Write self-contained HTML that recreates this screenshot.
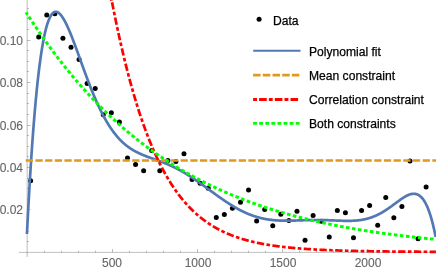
<!DOCTYPE html>
<html><head><meta charset="utf-8"><title>plot</title>
<style>
html,body{margin:0;padding:0;background:#fff;}
body{width:436px;height:271px;position:relative;overflow:hidden;font-family:"Liberation Sans",sans-serif;}
.t,.lg{will-change:transform;}
.t{-webkit-text-stroke:0.12px #666;}
.lg{-webkit-text-stroke:0.25px #000;}
.t{position:absolute;font-size:12px;line-height:14px;color:#666;white-space:nowrap;}
.yl{left:-1px;width:24px;text-align:right;}
.xl{top:256px;width:40px;text-align:center;}
.lg{position:absolute;font-size:12.1px;line-height:14px;color:#000;white-space:nowrap;}
</style></head><body>
<svg width="436" height="271" viewBox="0 0 436 271" style="position:absolute;left:0;top:0">
<g stroke="#666" fill="none">
<line x1="18.8" y1="252.4" x2="436" y2="252.4" stroke-width="0.4"/>
<line x1="27.15" y1="0" x2="27.15" y2="257" stroke-width="0.45"/>
</g>
<g stroke="#666" stroke-opacity="0.42" stroke-width="1" fill="none">
<line x1="44.50" y1="252.4" x2="44.50" y2="250.50"/>
<line x1="61.50" y1="252.4" x2="61.50" y2="250.50"/>
<line x1="78.50" y1="252.4" x2="78.50" y2="250.50"/>
<line x1="95.50" y1="252.4" x2="95.50" y2="250.50"/>
<line x1="112.50" y1="252.4" x2="112.50" y2="249.00"/>
<line x1="129.50" y1="252.4" x2="129.50" y2="250.50"/>
<line x1="146.50" y1="252.4" x2="146.50" y2="250.50"/>
<line x1="163.50" y1="252.4" x2="163.50" y2="250.50"/>
<line x1="180.50" y1="252.4" x2="180.50" y2="250.50"/>
<line x1="197.50" y1="252.4" x2="197.50" y2="249.00"/>
<line x1="214.50" y1="252.4" x2="214.50" y2="250.50"/>
<line x1="231.50" y1="252.4" x2="231.50" y2="250.50"/>
<line x1="248.50" y1="252.4" x2="248.50" y2="250.50"/>
<line x1="265.50" y1="252.4" x2="265.50" y2="250.50"/>
<line x1="282.50" y1="252.4" x2="282.50" y2="249.00"/>
<line x1="299.50" y1="252.4" x2="299.50" y2="250.50"/>
<line x1="316.50" y1="252.4" x2="316.50" y2="250.50"/>
<line x1="333.50" y1="252.4" x2="333.50" y2="250.50"/>
<line x1="350.50" y1="252.4" x2="350.50" y2="250.50"/>
<line x1="367.50" y1="252.4" x2="367.50" y2="249.00"/>
<line x1="384.50" y1="252.4" x2="384.50" y2="250.50"/>
<line x1="401.50" y1="252.4" x2="401.50" y2="250.50"/>
<line x1="418.50" y1="252.4" x2="418.50" y2="250.50"/>
<line x1="435.50" y1="252.4" x2="435.50" y2="250.50"/>
<line x1="27.0" y1="241.50" x2="28.90" y2="241.50"/>
<line x1="27.0" y1="231.50" x2="28.90" y2="231.50"/>
<line x1="27.0" y1="220.50" x2="28.90" y2="220.50"/>
<line x1="27.0" y1="209.50" x2="30.50" y2="209.50"/>
<line x1="27.0" y1="199.50" x2="28.90" y2="199.50"/>
<line x1="27.0" y1="188.50" x2="28.90" y2="188.50"/>
<line x1="27.0" y1="178.50" x2="28.90" y2="178.50"/>
<line x1="27.0" y1="167.50" x2="30.50" y2="167.50"/>
<line x1="27.0" y1="156.50" x2="28.90" y2="156.50"/>
<line x1="27.0" y1="146.50" x2="28.90" y2="146.50"/>
<line x1="27.0" y1="135.50" x2="28.90" y2="135.50"/>
<line x1="27.0" y1="125.50" x2="30.50" y2="125.50"/>
<line x1="27.0" y1="114.50" x2="28.90" y2="114.50"/>
<line x1="27.0" y1="103.50" x2="28.90" y2="103.50"/>
<line x1="27.0" y1="93.50" x2="28.90" y2="93.50"/>
<line x1="27.0" y1="82.50" x2="30.50" y2="82.50"/>
<line x1="27.0" y1="71.50" x2="28.90" y2="71.50"/>
<line x1="27.0" y1="61.50" x2="28.90" y2="61.50"/>
<line x1="27.0" y1="50.50" x2="28.90" y2="50.50"/>
<line x1="27.0" y1="40.50" x2="30.50" y2="40.50"/>
<line x1="27.0" y1="29.50" x2="28.90" y2="29.50"/>
<line x1="27.0" y1="18.50" x2="28.90" y2="18.50"/>
<line x1="27.0" y1="8.50" x2="28.90" y2="8.50"/>
</g>
<g fill="#000">
<circle cx="30.64" cy="180.70" r="2.5"/>
<circle cx="38.71" cy="36.90" r="2.5"/>
<circle cx="46.78" cy="15.10" r="2.5"/>
<circle cx="54.85" cy="13.70" r="2.5"/>
<circle cx="62.92" cy="38.30" r="2.5"/>
<circle cx="71.00" cy="47.20" r="2.5"/>
<circle cx="79.07" cy="59.40" r="2.5"/>
<circle cx="87.14" cy="83.60" r="2.5"/>
<circle cx="95.21" cy="88.60" r="2.5"/>
<circle cx="103.28" cy="114.80" r="2.5"/>
<circle cx="111.35" cy="112.70" r="2.5"/>
<circle cx="119.42" cy="122.00" r="2.5"/>
<circle cx="127.49" cy="157.90" r="2.5"/>
<circle cx="135.56" cy="164.40" r="2.5"/>
<circle cx="143.63" cy="170.70" r="2.5"/>
<circle cx="151.70" cy="150.60" r="2.5"/>
<circle cx="159.78" cy="170.70" r="2.5"/>
<circle cx="167.85" cy="160.40" r="2.5"/>
<circle cx="175.92" cy="161.60" r="2.5"/>
<circle cx="183.99" cy="153.80" r="2.5"/>
<circle cx="192.06" cy="179.50" r="2.5"/>
<circle cx="200.13" cy="183.20" r="2.5"/>
<circle cx="208.20" cy="188.30" r="2.5"/>
<circle cx="216.27" cy="217.60" r="2.5"/>
<circle cx="224.34" cy="214.50" r="2.5"/>
<circle cx="232.42" cy="208.20" r="2.5"/>
<circle cx="240.49" cy="202.30" r="2.5"/>
<circle cx="248.56" cy="190.10" r="2.5"/>
<circle cx="256.63" cy="221.00" r="2.5"/>
<circle cx="264.70" cy="209.60" r="2.5"/>
<circle cx="272.77" cy="225.70" r="2.5"/>
<circle cx="280.84" cy="214.20" r="2.5"/>
<circle cx="288.91" cy="220.50" r="2.5"/>
<circle cx="296.98" cy="211.30" r="2.5"/>
<circle cx="305.05" cy="240.30" r="2.5"/>
<circle cx="313.12" cy="215.50" r="2.5"/>
<circle cx="321.20" cy="221.20" r="2.5"/>
<circle cx="329.27" cy="237.10" r="2.5"/>
<circle cx="337.34" cy="210.40" r="2.5"/>
<circle cx="345.41" cy="212.70" r="2.5"/>
<circle cx="353.48" cy="237.80" r="2.5"/>
<circle cx="361.55" cy="210.40" r="2.5"/>
<circle cx="369.62" cy="205.40" r="2.5"/>
<circle cx="377.69" cy="225.30" r="2.5"/>
<circle cx="385.76" cy="197.50" r="2.5"/>
<circle cx="393.83" cy="217.70" r="2.5"/>
<circle cx="401.91" cy="206.40" r="2.5"/>
<circle cx="409.98" cy="161.10" r="2.5"/>
<circle cx="418.05" cy="238.70" r="2.5"/>
<circle cx="426.12" cy="187.10" r="2.5"/>
</g>
<path d="M27.00,232.69 L27.20,228.71 L27.40,224.78 L27.60,220.90 L27.80,217.07 L28.00,213.29 L28.20,209.56 L28.40,205.87 L28.60,202.24 L28.80,198.65 L29.00,195.11 L29.20,191.61 L29.40,188.16 L29.60,184.76 L29.80,181.40 L30.00,178.09 L30.20,174.82 L30.40,171.60 L30.60,168.42 L30.80,165.28 L31.00,162.19 L31.20,159.14 L31.40,156.13 L31.60,153.17 L31.80,150.25 L32.00,147.36 L32.20,144.52 L32.40,141.72 L32.60,138.96 L32.80,136.24 L33.00,133.56 L33.20,130.92 L33.40,128.31 L33.60,125.75 L33.80,123.22 L34.00,120.73 L34.20,118.28 L34.40,115.86 L34.60,113.49 L34.80,111.15 L35.00,108.84 L35.20,106.57 L35.40,104.34 L35.60,102.14 L35.80,99.97 L36.00,97.84 L36.20,95.75 L36.40,93.68 L36.60,91.65 L36.80,89.66 L37.00,87.70 L37.20,85.77 L37.40,83.87 L37.60,82.00 L37.80,80.17 L38.00,78.36 L38.20,76.59 L38.40,74.85 L38.60,73.14 L38.80,71.46 L39.00,69.81 L39.20,68.19 L39.40,66.59 L39.60,65.03 L39.80,63.50 L40.00,61.99 L40.20,60.51 L40.40,59.06 L40.60,57.64 L40.80,56.24 L41.00,54.88 L41.20,53.53 L41.40,52.22 L41.60,50.93 L41.80,49.67 L42.00,48.43 L42.20,47.22 L42.40,46.03 L42.60,44.87 L42.80,43.73 L43.00,42.62 L43.20,41.53 L43.40,40.47 L43.60,39.43 L43.80,38.41 L44.00,37.42 L44.20,36.44 L44.40,35.50 L44.60,34.57 L44.80,33.66 L45.00,32.78 L45.20,31.92 L45.40,31.08 L45.60,30.26 L45.80,29.47 L46.00,28.69 L46.20,27.94 L46.40,27.20 L46.60,26.49 L46.80,25.79 L47.00,25.12 L47.20,24.46 L47.40,23.82 L47.60,23.21 L47.80,22.61 L48.00,22.03 L48.20,21.46 L48.40,20.92 L48.60,20.39 L48.80,19.89 L49.00,19.40 L49.20,18.92 L49.40,18.47 L49.60,18.03 L49.80,17.61 L50.00,17.20 L50.20,16.81 L50.40,16.44 L50.60,16.08 L50.80,15.74 L51.00,15.41 L51.20,15.10 L51.40,14.81 L51.60,14.53 L51.80,14.26 L52.00,14.01 L52.20,13.78 L52.40,13.55 L52.60,13.35 L52.80,13.15 L53.00,12.97 L53.20,12.81 L53.40,12.65 L53.60,12.51 L53.80,12.39 L54.00,12.27 L54.20,12.17 L54.40,12.08 L54.60,12.01 L54.80,11.94 L55.00,11.89 L55.20,11.85 L55.40,11.82 L55.60,11.81 L55.80,11.80 L56.00,11.81 L56.20,11.83 L56.40,11.86 L56.60,11.90 L56.80,11.95 L57.00,12.01 L57.20,12.08 L57.40,12.16 L57.60,12.25 L57.80,12.35 L58.00,12.46 L58.20,12.59 L58.40,12.72 L58.60,12.86 L58.80,13.01 L59.00,13.16 L59.20,13.33 L59.40,13.51 L59.60,13.69 L59.80,13.89 L60.00,14.09 L60.20,14.30 L60.40,14.52 L60.60,14.74 L60.80,14.98 L61.00,15.22 L61.20,15.47 L61.40,15.73 L61.60,15.99 L61.80,16.27 L62.00,16.55 L62.20,16.83 L62.40,17.13 L62.60,17.43 L62.80,17.73 L63.00,18.05 L63.20,18.37 L63.40,18.69 L63.60,19.03 L63.80,19.37 L64.00,19.71 L64.20,20.06 L64.40,20.42 L64.60,20.78 L64.80,21.15 L65.00,21.53 L65.20,21.90 L65.40,22.29 L65.60,22.68 L65.80,23.07 L66.00,23.47 L66.20,23.88 L66.40,24.29 L66.60,24.70 L66.80,25.12 L67.00,25.55 L67.20,25.97 L67.40,26.41 L67.60,26.84 L67.80,27.28 L68.00,27.73 L68.20,28.18 L68.40,28.63 L68.60,29.09 L68.80,29.55 L69.00,30.01 L69.20,30.48 L69.40,30.95 L69.60,31.42 L69.80,31.90 L70.00,32.38 L70.20,32.87 L70.40,33.35 L70.60,33.84 L70.80,34.34 L71.00,34.83 L71.20,35.33 L71.40,35.83 L71.60,36.34 L71.80,36.84 L72.00,37.35 L72.20,37.86 L72.40,38.37 L72.60,38.89 L72.80,39.41 L73.00,39.93 L73.20,40.45 L73.40,40.97 L73.60,41.50 L73.80,42.03 L74.00,42.55 L74.20,43.09 L74.40,43.62 L74.60,44.15 L74.80,44.69 L75.00,45.22 L75.20,45.76 L75.40,46.30 L75.60,46.84 L75.80,47.38 L76.00,47.93 L76.20,48.47 L76.40,49.02 L76.60,49.56 L76.80,50.11 L77.00,50.66 L77.20,51.21 L77.40,51.75 L77.60,52.30 L77.80,52.85 L78.00,53.41 L78.20,53.96 L78.40,54.51 L78.60,55.06 L78.80,55.61 L79.00,56.17 L79.20,56.72 L79.40,57.27 L79.60,57.83 L79.80,58.38 L80.00,58.94 L80.20,59.49 L80.40,60.04 L80.60,60.60 L80.80,61.15 L81.00,61.71 L81.20,62.26 L81.40,62.81 L81.60,63.36 L81.80,63.92 L82.00,64.47 L82.20,65.02 L82.40,65.57 L82.60,66.12 L82.80,66.67 L83.00,67.22 L83.20,67.77 L83.40,68.32 L83.60,68.87 L83.80,69.42 L84.00,69.96 L84.20,70.51 L84.40,71.05 L84.60,71.60 L84.80,72.14 L85.00,72.68 L85.20,73.23 L85.40,73.77 L85.60,74.31 L85.80,74.84 L86.00,75.38 L86.20,75.92 L86.40,76.45 L86.60,76.99 L86.80,77.52 L87.00,78.05 L87.20,78.58 L87.40,79.11 L87.60,79.64 L87.80,80.17 L88.00,80.69 L88.20,81.22 L88.40,81.74 L88.60,82.26 L88.80,82.78 L89.00,83.30 L89.20,83.82 L89.40,84.33 L89.60,84.85 L89.80,85.36 L90.00,85.87 L90.20,86.38 L90.40,86.89 L90.60,87.39 L90.80,87.90 L91.00,88.40 L91.20,88.90 L91.40,89.40 L91.60,89.90 L91.80,90.39 L92.00,90.89 L92.20,91.38 L92.40,91.87 L92.60,92.36 L92.80,92.85 L93.00,93.33 L93.20,93.81 L93.40,94.30 L93.60,94.78 L93.80,95.25 L94.00,95.73 L94.20,96.20 L94.40,96.68 L94.60,97.15 L94.80,97.61 L95.00,98.08 L95.20,98.54 L95.40,99.01 L95.60,99.47 L95.80,99.93 L96.00,100.38 L96.20,100.84 L96.40,101.29 L96.60,101.74 L96.80,102.19 L97.00,102.63 L97.20,103.08 L97.40,103.52 L97.60,103.96 L97.80,104.40 L98.00,104.83 L98.20,105.26 L98.40,105.70 L98.60,106.12 L98.80,106.55 L99.00,106.98 L99.20,107.40 L99.40,107.82 L99.60,108.24 L99.80,108.66 L100.00,109.07 L100.20,109.48 L100.40,109.89 L100.60,110.30 L100.80,110.70 L101.00,111.11 L101.20,111.51 L101.40,111.91 L101.60,112.30 L101.80,112.70 L102.00,113.09 L102.20,113.48 L102.40,113.87 L102.60,114.26 L102.80,114.64 L103.00,115.02 L103.20,115.40 L103.40,115.78 L103.60,116.15 L103.80,116.52 L104.00,116.89 L104.20,117.26 L104.40,117.63 L104.60,117.99 L104.80,118.35 L105.00,118.71 L105.20,119.07 L105.40,119.42 L105.60,119.78 L105.80,120.13 L106.00,120.48 L106.20,120.82 L106.40,121.17 L106.60,121.51 L106.80,121.85 L107.00,122.18 L107.20,122.52 L107.40,122.85 L107.60,123.18 L107.80,123.51 L108.00,123.84 L108.20,124.16 L108.40,124.49 L108.60,124.81 L108.80,125.12 L109.00,125.44 L109.20,125.75 L109.40,126.06 L109.60,126.37 L109.80,126.68 L110.00,126.99 L110.20,127.29 L110.40,127.59 L110.60,127.89 L110.80,128.19 L111.00,128.48 L111.20,128.77 L111.40,129.06 L111.60,129.35 L111.80,129.64 L112.00,129.92 L112.20,130.20 L112.40,130.48 L112.60,130.76 L112.80,131.04 L113.00,131.31 L113.20,131.58 L113.40,131.85 L113.60,132.12 L113.80,132.39 L114.00,132.65 L114.20,132.91 L114.40,133.17 L114.60,133.43 L114.80,133.69 L115.00,133.94 L115.20,134.19 L115.40,134.44 L115.60,134.69 L115.80,134.94 L116.00,135.18 L116.20,135.42 L116.40,135.67 L116.60,135.90 L116.80,136.14 L117.00,136.38 L117.20,136.61 L117.40,136.84 L117.60,137.07 L117.80,137.30 L118.00,137.52 L118.20,137.75 L118.40,137.97 L118.60,138.19 L118.80,138.41 L119.00,138.63 L119.20,138.84 L119.40,139.05 L119.60,139.27 L119.80,139.48 L120.00,139.68 L120.20,139.89 L120.40,140.09 L120.60,140.30 L120.80,140.50 L121.00,140.70 L121.20,140.90 L121.40,141.09 L121.60,141.29 L121.80,141.48 L122.00,141.67 L122.20,141.86 L122.40,142.05 L122.60,142.24 L122.80,142.42 L123.00,142.61 L123.20,142.79 L123.40,142.97 L123.60,143.15 L123.80,143.32 L124.00,143.50 L124.20,143.67 L124.40,143.85 L124.60,144.02 L124.80,144.19 L125.00,144.36 L125.20,144.52 L125.40,144.69 L125.60,144.85 L125.80,145.02 L126.00,145.18 L126.20,145.34 L126.40,145.50 L126.60,145.65 L126.80,145.81 L127.00,145.96 L127.20,146.12 L127.40,146.27 L127.60,146.42 L127.80,146.57 L128.00,146.72 L128.20,146.86 L128.40,147.01 L128.60,147.15 L128.80,147.30 L129.00,147.44 L129.20,147.58 L129.40,147.72 L129.60,147.86 L129.80,147.99 L130.00,148.13 L130.20,148.26 L130.40,148.40 L130.60,148.53 L130.80,148.66 L131.00,148.79 L131.20,148.92 L131.40,149.05 L131.60,149.17 L131.80,149.30 L132.00,149.42 L132.20,149.55 L132.40,149.67 L132.60,149.79 L132.80,149.91 L133.00,150.03 L133.20,150.15 L133.40,150.27 L133.60,150.38 L133.80,150.50 L134.00,150.61 L134.20,150.73 L134.40,150.84 L134.60,150.95 L134.80,151.06 L135.00,151.17 L135.20,151.28 L135.40,151.39 L135.60,151.50 L135.80,151.60 L136.00,151.71 L136.20,151.82 L136.40,151.92 L136.60,152.02 L136.80,152.13 L137.00,152.23 L137.20,152.33 L137.40,152.43 L137.60,152.53 L137.80,152.63 L138.00,152.72 L138.20,152.82 L138.40,152.92 L138.60,153.01 L138.80,153.11 L139.00,153.20 L139.20,153.30 L139.40,153.39 L139.60,153.48 L139.80,153.58 L140.00,153.67 L140.20,153.76 L140.40,153.85 L140.60,153.94 L140.80,154.03 L141.00,154.12 L141.20,154.20 L141.40,154.29 L141.60,154.38 L141.80,154.46 L142.00,154.55 L142.20,154.63 L142.40,154.72 L142.60,154.80 L142.80,154.89 L143.00,154.97 L143.20,155.05 L143.40,155.14 L143.60,155.22 L143.80,155.30 L144.00,155.38 L144.20,155.46 L144.40,155.54 L144.60,155.62 L144.80,155.70 L145.00,155.78 L145.20,155.86 L145.40,155.94 L145.60,156.02 L145.80,156.09 L146.00,156.17 L146.20,156.25 L146.40,156.32 L146.60,156.40 L146.80,156.48 L147.00,156.55 L147.20,156.63 L147.40,156.70 L147.60,156.78 L147.80,156.85 L148.00,156.93 L148.20,157.00 L148.40,157.08 L148.60,157.15 L148.80,157.23 L149.00,157.30 L149.20,157.37 L149.40,157.45 L149.60,157.52 L149.80,157.59 L150.00,157.67 L150.20,157.74 L150.40,157.81 L150.60,157.88 L150.80,157.96 L151.00,158.03 L151.20,158.10 L151.40,158.17 L151.60,158.24 L151.80,158.32 L152.00,158.39 L152.20,158.46 L152.40,158.53 L152.60,158.60 L152.80,158.67 L153.00,158.75 L153.20,158.82 L153.40,158.89 L153.60,158.96 L153.80,159.03 L154.00,159.10 L154.20,159.18 L154.40,159.25 L154.60,159.32 L154.80,159.39 L155.00,159.46 L155.20,159.53 L155.40,159.60 L155.60,159.68 L155.80,159.75 L156.00,159.82 L156.20,159.89 L156.40,159.96 L156.60,160.04 L156.80,160.11 L157.00,160.18 L157.20,160.25 L157.40,160.33 L157.60,160.40 L157.80,160.47 L158.00,160.54 L158.20,160.62 L158.40,160.69 L158.60,160.76 L158.80,160.84 L159.00,160.91 L159.20,160.98 L159.40,161.06 L159.60,161.13 L159.80,161.21 L160.00,161.28 L160.20,161.36 L160.40,161.43 L160.60,161.51 L160.80,161.58 L161.00,161.66 L161.20,161.73 L161.40,161.81 L161.60,161.88 L161.80,161.96 L162.00,162.04 L162.20,162.11 L162.40,162.19 L162.60,162.27 L162.80,162.35 L163.00,162.42 L163.20,162.50 L163.40,162.58 L163.60,162.66 L163.80,162.74 L164.00,162.82 L164.20,162.90 L164.40,162.98 L164.60,163.06 L164.80,163.14 L165.00,163.22 L165.20,163.30 L165.40,163.38 L165.60,163.46 L165.80,163.54 L166.00,163.62 L166.20,163.71 L166.40,163.79 L166.60,163.87 L166.80,163.96 L167.00,164.04 L167.20,164.12 L167.40,164.21 L167.60,164.29 L167.80,164.38 L168.00,164.46 L168.20,164.55 L168.40,164.64 L168.60,164.72 L168.80,164.81 L169.00,164.90 L169.20,164.98 L169.40,165.07 L169.60,165.16 L169.80,165.25 L170.00,165.34 L170.20,165.43 L170.40,165.52 L170.60,165.61 L170.80,165.70 L171.00,165.79 L171.20,165.88 L171.40,165.97 L171.60,166.06 L171.80,166.16 L172.00,166.25 L172.20,166.34 L172.40,166.44 L172.60,166.53 L172.80,166.63 L173.00,166.72 L173.20,166.82 L173.40,166.91 L173.60,167.01 L173.80,167.10 L174.00,167.20 L174.20,167.30 L174.40,167.40 L174.60,167.49 L174.80,167.59 L175.00,167.69 L175.20,167.79 L175.40,167.89 L175.60,167.99 L175.80,168.09 L176.00,168.19 L176.20,168.29 L176.40,168.39 L176.60,168.50 L176.80,168.60 L177.00,168.70 L177.20,168.81 L177.40,168.91 L177.60,169.01 L177.80,169.12 L178.00,169.22 L178.20,169.33 L178.40,169.43 L178.60,169.54 L178.80,169.65 L179.00,169.76 L179.20,169.86 L179.40,169.97 L179.60,170.08 L179.80,170.19 L180.00,170.30 L180.20,170.41 L180.40,170.52 L180.60,170.63 L180.80,170.74 L181.00,170.85 L181.20,170.96 L181.40,171.07 L181.60,171.19 L181.80,171.30 L182.00,171.41 L182.20,171.53 L182.40,171.64 L182.60,171.75 L182.80,171.87 L183.00,171.98 L183.20,172.10 L183.40,172.22 L183.60,172.33 L183.80,172.45 L184.00,172.57 L184.20,172.69 L184.40,172.80 L184.60,172.92 L184.80,173.04 L185.00,173.16 L185.20,173.28 L185.40,173.40 L185.60,173.52 L185.80,173.64 L186.00,173.76 L186.20,173.88 L186.40,174.01 L186.60,174.13 L186.80,174.25 L187.00,174.37 L187.20,174.50 L187.40,174.62 L187.60,174.75 L187.80,174.87 L188.00,175.00 L188.20,175.12 L188.40,175.25 L188.60,175.37 L188.80,175.50 L189.00,175.63 L189.20,175.75 L189.40,175.88 L189.60,176.01 L189.80,176.14 L190.00,176.26 L190.20,176.39 L190.40,176.52 L190.60,176.65 L190.80,176.78 L191.00,176.91 L191.20,177.04 L191.40,177.17 L191.60,177.30 L191.80,177.44 L192.00,177.57 L192.20,177.70 L192.40,177.83 L192.60,177.97 L192.80,178.10 L193.00,178.23 L193.20,178.37 L193.40,178.50 L193.60,178.63 L193.80,178.77 L194.00,178.90 L194.20,179.04 L194.40,179.17 L194.60,179.31 L194.80,179.44 L195.00,179.58 L195.20,179.72 L195.40,179.85 L195.60,179.99 L195.80,180.13 L196.00,180.27 L196.20,180.40 L196.40,180.54 L196.60,180.68 L196.80,180.82 L197.00,180.96 L197.20,181.10 L197.40,181.24 L197.60,181.38 L197.80,181.51 L198.00,181.65 L198.20,181.79 L198.40,181.94 L198.60,182.08 L198.80,182.22 L199.00,182.36 L199.20,182.50 L199.40,182.64 L199.60,182.78 L199.80,182.92 L200.00,183.07 L200.20,183.21 L200.40,183.35 L200.60,183.49 L200.80,183.64 L201.00,183.78 L201.20,183.92 L201.40,184.06 L201.60,184.21 L201.80,184.35 L202.00,184.49 L202.20,184.64 L202.40,184.78 L202.60,184.93 L202.80,185.07 L203.00,185.22 L203.20,185.36 L203.40,185.50 L203.60,185.65 L203.80,185.79 L204.00,185.94 L204.20,186.08 L204.40,186.23 L204.60,186.37 L204.80,186.52 L205.00,186.67 L205.20,186.81 L205.40,186.96 L205.60,187.10 L205.80,187.25 L206.00,187.39 L206.20,187.54 L206.40,187.69 L206.60,187.83 L206.80,187.98 L207.00,188.13 L207.20,188.27 L207.40,188.42 L207.60,188.56 L207.80,188.71 L208.00,188.86 L208.20,189.00 L208.40,189.15 L208.60,189.30 L208.80,189.44 L209.00,189.59 L209.20,189.74 L209.40,189.88 L209.60,190.03 L209.80,190.18 L210.00,190.32 L210.20,190.47 L210.40,190.62 L210.60,190.76 L210.80,190.91 L211.00,191.06 L211.20,191.20 L211.40,191.35 L211.60,191.49 L211.80,191.64 L212.00,191.79 L212.20,191.93 L212.40,192.08 L212.60,192.23 L212.80,192.37 L213.00,192.52 L213.20,192.66 L213.40,192.81 L213.60,192.96 L213.80,193.10 L214.00,193.25 L214.20,193.39 L214.40,193.54 L214.60,193.68 L214.80,193.83 L215.00,193.97 L215.20,194.12 L215.40,194.26 L215.60,194.41 L215.80,194.55 L216.00,194.70 L216.20,194.84 L216.40,194.99 L216.60,195.13 L216.80,195.27 L217.00,195.42 L217.20,195.56 L217.40,195.71 L217.60,195.85 L217.80,195.99 L218.00,196.14 L218.20,196.28 L218.40,196.42 L218.60,196.56 L218.80,196.71 L219.00,196.85 L219.20,196.99 L219.40,197.13 L219.60,197.27 L219.80,197.41 L220.00,197.56 L220.20,197.70 L220.40,197.84 L220.60,197.98 L220.80,198.12 L221.00,198.26 L221.20,198.40 L221.40,198.54 L221.60,198.68 L221.80,198.82 L222.00,198.96 L222.20,199.09 L222.40,199.23 L222.60,199.37 L222.80,199.51 L223.00,199.65 L223.20,199.78 L223.40,199.92 L223.60,200.06 L223.80,200.19 L224.00,200.33 L224.20,200.47 L224.40,200.60 L224.60,200.74 L224.80,200.87 L225.00,201.01 L225.20,201.14 L225.40,201.28 L225.60,201.41 L225.80,201.54 L226.00,201.68 L226.20,201.81 L226.40,201.94 L226.60,202.08 L226.80,202.21 L227.00,202.34 L227.20,202.47 L227.40,202.60 L227.60,202.73 L227.80,202.86 L228.00,202.99 L228.20,203.12 L228.40,203.25 L228.60,203.38 L228.80,203.51 L229.00,203.64 L229.20,203.77 L229.40,203.89 L229.60,204.02 L229.80,204.15 L230.00,204.27 L230.20,204.40 L230.40,204.53 L230.60,204.65 L230.80,204.78 L231.00,204.90 L231.20,205.02 L231.40,205.15 L231.60,205.27 L231.80,205.39 L232.00,205.52 L232.20,205.64 L232.40,205.76 L232.60,205.88 L232.80,206.00 L233.00,206.12 L233.20,206.24 L233.40,206.36 L233.60,206.48 L233.80,206.60 L234.00,206.72 L234.20,206.84 L234.40,206.95 L234.60,207.07 L234.80,207.19 L235.00,207.30 L235.20,207.42 L235.40,207.53 L235.60,207.65 L235.80,207.76 L236.00,207.88 L236.20,207.99 L236.40,208.10 L236.60,208.22 L236.80,208.33 L237.00,208.44 L237.20,208.55 L237.40,208.66 L237.60,208.77 L237.80,208.88 L238.00,208.99 L238.20,209.10 L238.40,209.21 L238.60,209.32 L238.80,209.42 L239.00,209.53 L239.20,209.64 L239.40,209.74 L239.60,209.85 L239.80,209.95 L240.00,210.06 L240.20,210.16 L240.40,210.26 L240.60,210.37 L240.80,210.47 L241.00,210.57 L241.20,210.67 L241.40,210.77 L241.60,210.87 L241.80,210.97 L242.00,211.07 L242.20,211.17 L242.40,211.27 L242.60,211.37 L242.80,211.46 L243.00,211.56 L243.20,211.66 L243.40,211.75 L243.60,211.85 L243.80,211.94 L244.00,212.04 L244.20,212.13 L244.40,212.22 L244.60,212.32 L244.80,212.41 L245.00,212.50 L245.20,212.59 L245.40,212.68 L245.60,212.77 L245.80,212.86 L246.00,212.95 L246.20,213.04 L246.40,213.13 L246.60,213.21 L246.80,213.30 L247.00,213.39 L247.20,213.47 L247.40,213.56 L247.60,213.64 L247.80,213.73 L248.00,213.81 L248.20,213.89 L248.40,213.97 L248.60,214.06 L248.80,214.14 L249.00,214.22 L249.20,214.30 L249.40,214.38 L249.60,214.46 L249.80,214.54 L250.00,214.61 L250.20,214.69 L250.40,214.77 L250.60,214.84 L250.80,214.92 L251.00,215.00 L251.20,215.07 L251.40,215.14 L251.60,215.22 L251.80,215.29 L252.00,215.36 L252.20,215.44 L252.40,215.51 L252.60,215.58 L252.80,215.65 L253.00,215.72 L253.20,215.79 L253.40,215.86 L253.60,215.93 L253.80,215.99 L254.00,216.06 L254.20,216.13 L254.40,216.19 L254.60,216.26 L254.80,216.32 L255.00,216.39 L255.20,216.45 L255.40,216.51 L255.60,216.58 L255.80,216.64 L256.00,216.70 L256.20,216.76 L256.40,216.82 L256.60,216.88 L256.80,216.94 L257.00,217.00 L257.20,217.06 L257.40,217.12 L257.60,217.18 L257.80,217.23 L258.00,217.29 L258.20,217.34 L258.40,217.40 L258.60,217.46 L258.80,217.51 L259.00,217.56 L259.20,217.62 L259.40,217.67 L259.60,217.72 L259.80,217.77 L260.00,217.82 L260.20,217.87 L260.40,217.92 L260.60,217.97 L260.80,218.02 L261.00,218.07 L261.20,218.12 L261.40,218.17 L261.60,218.21 L261.80,218.26 L262.00,218.31 L262.20,218.35 L262.40,218.40 L262.60,218.44 L262.80,218.48 L263.00,218.53 L263.20,218.57 L263.40,218.61 L263.60,218.65 L263.80,218.70 L264.00,218.74 L264.20,218.78 L264.40,218.82 L264.60,218.86 L264.80,218.90 L265.00,218.93 L265.20,218.97 L265.40,219.01 L265.60,219.05 L265.80,219.08 L266.00,219.12 L266.20,219.15 L266.40,219.19 L266.60,219.22 L266.80,219.26 L267.00,219.29 L267.20,219.32 L267.40,219.36 L267.60,219.39 L267.80,219.42 L268.00,219.45 L268.20,219.48 L268.40,219.51 L268.60,219.54 L268.80,219.57 L269.00,219.60 L269.20,219.63 L269.40,219.66 L269.60,219.69 L269.80,219.71 L270.00,219.74 L270.20,219.77 L270.40,219.79 L270.60,219.82 L270.80,219.84 L271.00,219.87 L271.20,219.89 L271.40,219.92 L271.60,219.94 L271.80,219.96 L272.00,219.99 L272.20,220.01 L272.40,220.03 L272.60,220.05 L272.80,220.07 L273.00,220.09 L273.20,220.11 L273.40,220.13 L273.60,220.15 L273.80,220.17 L274.00,220.19 L274.20,220.21 L274.40,220.22 L274.60,220.24 L274.80,220.26 L275.00,220.28 L275.20,220.29 L275.40,220.31 L275.60,220.32 L275.80,220.34 L276.00,220.35 L276.20,220.37 L276.40,220.38 L276.60,220.40 L276.80,220.41 L277.00,220.42 L277.20,220.44 L277.40,220.45 L277.60,220.46 L277.80,220.47 L278.00,220.48 L278.20,220.49 L278.40,220.50 L278.60,220.51 L278.80,220.53 L279.00,220.53 L279.20,220.54 L279.40,220.55 L279.60,220.56 L279.80,220.57 L280.00,220.58 L280.20,220.59 L280.40,220.59 L280.60,220.60 L280.80,220.61 L281.00,220.62 L281.20,220.62 L281.40,220.63 L281.60,220.63 L281.80,220.64 L282.00,220.64 L282.20,220.65 L282.40,220.65 L282.60,220.66 L282.80,220.66 L283.00,220.67 L283.20,220.67 L283.40,220.67 L283.60,220.68 L283.80,220.68 L284.00,220.68 L284.20,220.69 L284.40,220.69 L284.60,220.69 L284.80,220.69 L285.00,220.69 L285.20,220.69 L285.40,220.70 L285.60,220.70 L285.80,220.70 L286.00,220.70 L286.20,220.70 L286.40,220.70 L286.60,220.70 L286.80,220.70 L287.00,220.70 L287.20,220.70 L287.40,220.70 L287.60,220.69 L287.80,220.69 L288.00,220.69 L288.20,220.69 L288.40,220.69 L288.60,220.69 L288.80,220.68 L289.00,220.68 L289.20,220.68 L289.40,220.68 L289.60,220.67 L289.80,220.67 L290.00,220.67 L290.20,220.66 L290.40,220.66 L290.60,220.66 L290.80,220.65 L291.00,220.65 L291.20,220.65 L291.40,220.64 L291.60,220.64 L291.80,220.63 L292.00,220.63 L292.20,220.62 L292.40,220.62 L292.60,220.61 L292.80,220.61 L293.00,220.60 L293.20,220.60 L293.40,220.59 L293.60,220.59 L293.80,220.58 L294.00,220.58 L294.20,220.57 L294.40,220.57 L294.60,220.56 L294.80,220.56 L295.00,220.55 L295.20,220.54 L295.40,220.54 L295.60,220.53 L295.80,220.53 L296.00,220.52 L296.20,220.51 L296.40,220.51 L296.60,220.50 L296.80,220.49 L297.00,220.49 L297.20,220.48 L297.40,220.47 L297.60,220.47 L297.80,220.46 L298.00,220.45 L298.20,220.45 L298.40,220.44 L298.60,220.43 L298.80,220.43 L299.00,220.42 L299.20,220.41 L299.40,220.41 L299.60,220.40 L299.80,220.39 L300.00,220.39 L300.20,220.38 L300.40,220.37 L300.60,220.37 L300.80,220.36 L301.00,220.35 L301.20,220.35 L301.40,220.34 L301.60,220.33 L301.80,220.33 L302.00,220.32 L302.20,220.31 L302.40,220.31 L302.60,220.30 L302.80,220.29 L303.00,220.29 L303.20,220.28 L303.40,220.27 L303.60,220.27 L303.80,220.26 L304.00,220.25 L304.20,220.25 L304.40,220.24 L304.60,220.24 L304.80,220.23 L305.00,220.22 L305.20,220.22 L305.40,220.21 L305.60,220.20 L305.80,220.20 L306.00,220.19 L306.20,220.19 L306.40,220.18 L306.60,220.18 L306.80,220.17 L307.00,220.17 L307.20,220.16 L307.40,220.15 L307.60,220.15 L307.80,220.14 L308.00,220.14 L308.20,220.13 L308.40,220.13 L308.60,220.12 L308.80,220.12 L309.00,220.12 L309.20,220.11 L309.40,220.11 L309.60,220.10 L309.80,220.10 L310.00,220.09 L310.20,220.09 L310.40,220.09 L310.60,220.08 L310.80,220.08 L311.00,220.07 L311.20,220.07 L311.40,220.07 L311.60,220.06 L311.80,220.06 L312.00,220.06 L312.20,220.06 L312.40,220.05 L312.60,220.05 L312.80,220.05 L313.00,220.04 L313.20,220.04 L313.40,220.04 L313.60,220.04 L313.80,220.04 L314.00,220.03 L314.20,220.03 L314.40,220.03 L314.60,220.03 L314.80,220.03 L315.00,220.03 L315.20,220.03 L315.40,220.02 L315.60,220.02 L315.80,220.02 L316.00,220.02 L316.20,220.02 L316.40,220.02 L316.60,220.02 L316.80,220.02 L317.00,220.02 L317.20,220.02 L317.40,220.02 L317.60,220.02 L317.80,220.02 L318.00,220.02 L318.20,220.02 L318.40,220.02 L318.60,220.03 L318.80,220.03 L319.00,220.03 L319.20,220.03 L319.40,220.03 L319.60,220.03 L319.80,220.04 L320.00,220.04 L320.20,220.04 L320.40,220.04 L320.60,220.04 L320.80,220.05 L321.00,220.05 L321.20,220.05 L321.40,220.05 L321.60,220.06 L321.80,220.06 L322.00,220.06 L322.20,220.07 L322.40,220.07 L322.60,220.07 L322.80,220.08 L323.00,220.08 L323.20,220.09 L323.40,220.09 L323.60,220.09 L323.80,220.10 L324.00,220.10 L324.20,220.11 L324.40,220.11 L324.60,220.12 L324.80,220.12 L325.00,220.13 L325.20,220.13 L325.40,220.14 L325.60,220.14 L325.80,220.15 L326.00,220.16 L326.20,220.16 L326.40,220.17 L326.60,220.17 L326.80,220.18 L327.00,220.18 L327.20,220.19 L327.40,220.20 L327.60,220.20 L327.80,220.21 L328.00,220.22 L328.20,220.22 L328.40,220.23 L328.60,220.24 L328.80,220.24 L329.00,220.25 L329.20,220.26 L329.40,220.27 L329.60,220.27 L329.80,220.28 L330.00,220.29 L330.20,220.29 L330.40,220.30 L330.60,220.31 L330.80,220.32 L331.00,220.33 L331.20,220.33 L331.40,220.34 L331.60,220.35 L331.80,220.36 L332.00,220.36 L332.20,220.37 L332.40,220.38 L332.60,220.39 L332.80,220.40 L333.00,220.40 L333.20,220.41 L333.40,220.42 L333.60,220.43 L333.80,220.44 L334.00,220.45 L334.20,220.45 L334.40,220.46 L334.60,220.47 L334.80,220.48 L335.00,220.49 L335.20,220.50 L335.40,220.50 L335.60,220.51 L335.80,220.52 L336.00,220.53 L336.20,220.54 L336.40,220.54 L336.60,220.55 L336.80,220.56 L337.00,220.57 L337.20,220.58 L337.40,220.59 L337.60,220.59 L337.80,220.60 L338.00,220.61 L338.20,220.62 L338.40,220.62 L338.60,220.63 L338.80,220.64 L339.00,220.65 L339.20,220.65 L339.40,220.66 L339.60,220.67 L339.80,220.68 L340.00,220.68 L340.20,220.69 L340.40,220.70 L340.60,220.70 L340.80,220.71 L341.00,220.72 L341.20,220.72 L341.40,220.73 L341.60,220.74 L341.80,220.74 L342.00,220.75 L342.20,220.76 L342.40,220.76 L342.60,220.77 L342.80,220.77 L343.00,220.78 L343.20,220.78 L343.40,220.79 L343.60,220.79 L343.80,220.80 L344.00,220.80 L344.20,220.81 L344.40,220.81 L344.60,220.81 L344.80,220.82 L345.00,220.82 L345.20,220.82 L345.40,220.83 L345.60,220.83 L345.80,220.83 L346.00,220.83 L346.20,220.84 L346.40,220.84 L346.60,220.84 L346.80,220.84 L347.00,220.84 L347.20,220.84 L347.40,220.84 L347.60,220.84 L347.80,220.84 L348.00,220.84 L348.20,220.84 L348.40,220.84 L348.60,220.84 L348.80,220.84 L349.00,220.84 L349.20,220.84 L349.40,220.83 L349.60,220.83 L349.80,220.83 L350.00,220.82 L350.20,220.82 L350.40,220.82 L350.60,220.81 L350.80,220.81 L351.00,220.80 L351.20,220.80 L351.40,220.79 L351.60,220.79 L351.80,220.78 L352.00,220.77 L352.20,220.76 L352.40,220.76 L352.60,220.75 L352.80,220.74 L353.00,220.73 L353.20,220.72 L353.40,220.71 L353.60,220.70 L353.80,220.69 L354.00,220.68 L354.20,220.67 L354.40,220.66 L354.60,220.64 L354.80,220.63 L355.00,220.62 L355.20,220.60 L355.40,220.59 L355.60,220.57 L355.80,220.56 L356.00,220.54 L356.20,220.53 L356.40,220.51 L356.60,220.49 L356.80,220.47 L357.00,220.46 L357.20,220.44 L357.40,220.42 L357.60,220.40 L357.80,220.38 L358.00,220.35 L358.20,220.33 L358.40,220.31 L358.60,220.29 L358.80,220.26 L359.00,220.24 L359.20,220.22 L359.40,220.19 L359.60,220.16 L359.80,220.14 L360.00,220.11 L360.20,220.08 L360.40,220.06 L360.60,220.03 L360.80,220.00 L361.00,219.97 L361.20,219.94 L361.40,219.90 L361.60,219.87 L361.80,219.84 L362.00,219.81 L362.20,219.77 L362.40,219.74 L362.60,219.70 L362.80,219.67 L363.00,219.63 L363.20,219.59 L363.40,219.55 L363.60,219.51 L363.80,219.47 L364.00,219.43 L364.20,219.39 L364.40,219.35 L364.60,219.31 L364.80,219.27 L365.00,219.22 L365.20,219.18 L365.40,219.13 L365.60,219.08 L365.80,219.04 L366.00,218.99 L366.20,218.94 L366.40,218.89 L366.60,218.84 L366.80,218.79 L367.00,218.74 L367.20,218.69 L367.40,218.63 L367.60,218.58 L367.80,218.53 L368.00,218.47 L368.20,218.41 L368.40,218.36 L368.60,218.30 L368.80,218.24 L369.00,218.18 L369.20,218.12 L369.40,218.06 L369.60,218.00 L369.80,217.94 L370.00,217.87 L370.20,217.81 L370.40,217.74 L370.60,217.68 L370.80,217.61 L371.00,217.54 L371.20,217.47 L371.40,217.40 L371.60,217.33 L371.80,217.26 L372.00,217.19 L372.20,217.12 L372.40,217.04 L372.60,216.97 L372.80,216.89 L373.00,216.82 L373.20,216.74 L373.40,216.66 L373.60,216.58 L373.80,216.50 L374.00,216.42 L374.20,216.34 L374.40,216.26 L374.60,216.17 L374.80,216.09 L375.00,216.00 L375.20,215.92 L375.40,215.83 L375.60,215.74 L375.80,215.66 L376.00,215.57 L376.20,215.48 L376.40,215.38 L376.60,215.29 L376.80,215.20 L377.00,215.11 L377.20,215.01 L377.40,214.92 L377.60,214.82 L377.80,214.72 L378.00,214.62 L378.20,214.52 L378.40,214.42 L378.60,214.32 L378.80,214.22 L379.00,214.12 L379.20,214.02 L379.40,213.91 L379.60,213.81 L379.80,213.70 L380.00,213.59 L380.20,213.49 L380.40,213.38 L380.60,213.27 L380.80,213.16 L381.00,213.05 L381.20,212.93 L381.40,212.82 L381.60,212.71 L381.80,212.59 L382.00,212.48 L382.20,212.36 L382.40,212.25 L382.60,212.13 L382.80,212.01 L383.00,211.89 L383.20,211.77 L383.40,211.65 L383.60,211.53 L383.80,211.41 L384.00,211.28 L384.20,211.16 L384.40,211.03 L384.60,210.91 L384.80,210.78 L385.00,210.66 L385.20,210.53 L385.40,210.40 L385.60,210.27 L385.80,210.14 L386.00,210.01 L386.20,209.88 L386.40,209.75 L386.60,209.62 L386.80,209.48 L387.00,209.35 L387.20,209.22 L387.40,209.08 L387.60,208.95 L387.80,208.81 L388.00,208.67 L388.20,208.54 L388.40,208.40 L388.60,208.26 L388.80,208.12 L389.00,207.98 L389.20,207.84 L389.40,207.70 L389.60,207.56 L389.80,207.42 L390.00,207.28 L390.20,207.13 L390.40,206.99 L390.60,206.85 L390.80,206.70 L391.00,206.56 L391.20,206.42 L391.40,206.27 L391.60,206.13 L391.80,205.98 L392.00,205.83 L392.20,205.69 L392.40,205.54 L392.60,205.39 L392.80,205.25 L393.00,205.10 L393.20,204.95 L393.40,204.81 L393.60,204.66 L393.80,204.51 L394.00,204.36 L394.20,204.21 L394.40,204.06 L394.60,203.92 L394.80,203.77 L395.00,203.62 L395.20,203.47 L395.40,203.32 L395.60,203.17 L395.80,203.02 L396.00,202.88 L396.20,202.73 L396.40,202.58 L396.60,202.43 L396.80,202.28 L397.00,202.13 L397.20,201.99 L397.40,201.84 L397.60,201.69 L397.80,201.54 L398.00,201.40 L398.20,201.25 L398.40,201.11 L398.60,200.96 L398.80,200.81 L399.00,200.67 L399.20,200.53 L399.40,200.38 L399.60,200.24 L399.80,200.10 L400.00,199.95 L400.20,199.81 L400.40,199.67 L400.60,199.53 L400.80,199.39 L401.00,199.25 L401.20,199.12 L401.40,198.98 L401.60,198.84 L401.80,198.71 L402.00,198.57 L402.20,198.44 L402.40,198.31 L402.60,198.17 L402.80,198.04 L403.00,197.91 L403.20,197.79 L403.40,197.66 L403.60,197.53 L403.80,197.41 L404.00,197.29 L404.20,197.16 L404.40,197.04 L404.60,196.92 L404.80,196.81 L405.00,196.69 L405.20,196.57 L405.40,196.46 L405.60,196.35 L405.80,196.24 L406.00,196.13 L406.20,196.02 L406.40,195.92 L406.60,195.82 L406.80,195.72 L407.00,195.62 L407.20,195.52 L407.40,195.42 L407.60,195.33 L407.80,195.24 L408.00,195.15 L408.20,195.06 L408.40,194.98 L408.60,194.90 L408.80,194.82 L409.00,194.74 L409.20,194.67 L409.40,194.59 L409.60,194.52 L409.80,194.46 L410.00,194.39 L410.20,194.33 L410.40,194.27 L410.60,194.22 L410.80,194.16 L411.00,194.11 L411.20,194.07 L411.40,194.02 L411.60,193.98 L411.80,193.94 L412.00,193.91 L412.20,193.88 L412.40,193.85 L412.60,193.83 L412.80,193.81 L413.00,193.79 L413.20,193.78 L413.40,193.77 L413.60,193.76 L413.80,193.76 L414.00,193.76 L414.20,193.77 L414.40,193.78 L414.60,193.79 L414.80,193.81 L415.00,193.84 L415.20,193.86 L415.40,193.89 L415.60,193.93 L415.80,193.97 L416.00,194.02 L416.20,194.07 L416.40,194.12 L416.60,194.18 L416.80,194.25 L417.00,194.32 L417.20,194.39 L417.40,194.47 L417.60,194.56 L417.80,194.65 L418.00,194.74 L418.20,194.85 L418.40,194.95 L418.60,195.07 L418.80,195.18 L419.00,195.31 L419.20,195.44 L419.40,195.58 L419.60,195.72 L419.80,195.87 L420.00,196.02 L420.20,196.19 L420.40,196.35 L420.60,196.53 L420.80,196.71 L421.00,196.90 L421.20,197.10 L421.40,197.30 L421.60,197.51 L421.80,197.72 L422.00,197.95 L422.20,198.18 L422.40,198.42 L422.60,198.66 L422.80,198.92 L423.00,199.18 L423.20,199.45 L423.40,199.73 L423.60,200.01 L423.80,200.31 L424.00,200.61 L424.20,200.92 L424.40,201.24 L424.60,201.57 L424.80,201.90 L425.00,202.25 L425.20,202.60 L425.40,202.97 L425.60,203.34 L425.80,203.72 L426.00,204.11 L426.20,204.52 L426.40,204.93 L426.60,205.35 L426.80,205.78 L427.00,206.22 L427.20,206.67 L427.40,207.13 L427.60,207.60 L427.80,208.09 L428.00,208.58 L428.20,209.08 L428.40,209.60 L428.60,210.13 L428.80,210.66 L429.00,211.21 L429.20,211.77 L429.40,212.34 L429.60,212.93 L429.80,213.52 L430.00,214.13 L430.20,214.75 L430.40,215.38 L430.60,216.03 L430.80,216.68 L431.00,217.35 L431.20,218.04 L431.40,218.73 L431.60,219.44 L431.80,220.16 L432.00,220.90 L432.20,221.65 L432.40,222.41 L432.60,223.19 L432.80,223.98 L433.00,224.79 L433.20,225.61 L433.40,226.45 L433.60,227.30 L433.80,228.16 L434.00,229.04 L434.20,229.94 L434.40,230.85 L434.60,231.77 L434.80,232.71 L435.00,233.67 L435.20,234.65 L435.40,235.64" fill="none" stroke="#5279b3" stroke-width="2.7" stroke-linejoin="round" stroke-linecap="square"/>
<path d="M25.75,160.5 H436.0" fill="none" stroke="#e0991c" stroke-width="2.7" stroke-dasharray="7.25 2.43"/>
<path d="M110.40,-6.54 L110.65,-5.22 L110.90,-3.90 L111.15,-2.59 L111.40,-1.28 L111.65,0.02 L111.90,1.32 L112.15,2.61 L112.40,3.89 L112.65,5.17 L112.90,6.44 L113.15,7.71 L113.40,8.97 L113.65,10.23 L113.90,11.48 L114.15,12.72 L114.40,13.96 L114.65,15.20 L114.90,16.42 L115.15,17.65 L115.40,18.86 L115.65,20.07 L115.90,21.28 L116.15,22.48 L116.40,23.67 L116.65,24.86 L116.90,26.05 L117.15,27.22 L117.40,28.40 L117.65,29.56 L117.90,30.73 L118.15,31.88 L118.40,33.03 L118.65,34.18 L118.90,35.32 L119.15,36.46 L119.40,37.59 L119.65,38.71 L119.90,39.83 L120.15,40.95 L120.40,42.06 L120.65,43.16 L120.90,44.26 L121.15,45.36 L121.40,46.44 L121.65,47.53 L121.90,48.61 L122.15,49.68 L122.40,50.75 L122.65,51.81 L122.90,52.87 L123.15,53.93 L123.40,54.97 L123.65,56.02 L123.90,57.06 L124.15,58.09 L124.40,59.12 L124.65,60.15 L124.90,61.16 L125.15,62.18 L125.40,63.19 L125.65,64.19 L125.90,65.19 L126.15,66.19 L126.40,67.18 L126.65,68.17 L126.90,69.15 L127.15,70.12 L127.40,71.10 L127.65,72.06 L127.90,73.03 L128.15,73.98 L128.40,74.94 L128.65,75.89 L128.90,76.83 L129.15,77.77 L129.40,78.70 L129.65,79.63 L129.90,80.56 L130.15,81.48 L130.40,82.40 L130.65,83.31 L130.90,84.22 L131.15,85.12 L131.40,86.02 L131.65,86.92 L131.90,87.81 L132.15,88.70 L132.40,89.58 L132.65,90.45 L132.90,91.33 L133.15,92.20 L133.40,93.06 L133.65,93.92 L133.90,94.78 L134.15,95.63 L134.40,96.48 L134.65,97.32 L134.90,98.16 L135.15,99.00 L135.40,99.83 L135.65,100.66 L135.90,101.48 L136.15,102.30 L136.40,103.11 L136.65,103.92 L136.90,104.73 L137.15,105.53 L137.40,106.33 L137.65,107.13 L137.90,107.92 L138.15,108.70 L138.40,109.49 L138.65,110.27 L138.90,111.04 L139.15,111.81 L139.40,112.58 L139.65,113.34 L139.90,114.10 L140.15,114.86 L140.40,115.61 L140.65,116.36 L140.90,117.10 L141.15,117.85 L141.40,118.58 L141.65,119.32 L141.90,120.05 L142.15,120.77 L142.40,121.49 L142.65,122.21 L142.90,122.93 L143.15,123.64 L143.40,124.35 L143.65,125.05 L143.90,125.75 L144.15,126.45 L144.40,127.14 L144.65,127.83 L144.90,128.52 L145.15,129.20 L145.40,129.88 L145.65,130.55 L145.90,131.23 L146.15,131.90 L146.40,132.56 L146.65,133.22 L146.90,133.88 L147.15,134.54 L147.40,135.19 L147.65,135.84 L147.90,136.48 L148.15,137.12 L148.40,137.76 L148.65,138.40 L148.90,139.03 L149.15,139.66 L149.40,140.28 L149.65,140.91 L149.90,141.52 L150.15,142.14 L150.40,142.75 L150.65,143.36 L150.90,143.97 L151.15,144.57 L151.40,145.17 L151.65,145.77 L151.90,146.36 L152.15,146.95 L152.40,147.54 L152.65,148.12 L152.90,148.70 L153.15,149.28 L153.40,149.86 L153.65,150.43 L153.90,151.00 L154.15,151.57 L154.40,152.13 L154.65,152.69 L154.90,153.25 L155.15,153.80 L155.40,154.35 L155.65,154.90 L155.90,155.45 L156.15,155.99 L156.40,156.53 L156.65,157.07 L156.90,157.60 L157.15,158.13 L157.40,158.66 L157.65,159.19 L157.90,159.71 L158.15,160.23 L158.40,160.75 L158.65,161.26 L158.90,161.77 L159.15,162.28 L159.40,162.79 L159.65,163.29 L159.90,163.79 L160.15,164.29 L160.40,164.79 L160.65,165.28 L160.90,165.77 L161.15,166.26 L161.40,166.74 L161.65,167.23 L161.90,167.71 L162.15,168.18 L162.40,168.66 L162.65,169.13 L162.90,169.60 L163.15,170.07 L163.40,170.53 L163.65,170.99 L163.90,171.45 L164.15,171.91 L164.40,172.37 L164.65,172.82 L164.90,173.27 L165.15,173.72 L165.40,174.16 L165.65,174.60 L165.90,175.04 L166.15,175.48 L166.40,175.92 L166.65,176.35 L166.90,176.78 L167.15,177.21 L167.40,177.64 L167.65,178.06 L167.90,178.48 L168.15,178.90 L168.40,179.32 L168.65,179.73 L168.90,180.14 L169.15,180.55 L169.40,180.96 L169.65,181.37 L169.90,181.77 L170.15,182.17 L170.40,182.57 L170.65,182.97 L170.90,183.36 L171.15,183.76 L171.40,184.15 L171.65,184.53 L171.90,184.92 L172.15,185.30 L172.40,185.69 L172.65,186.07 L172.90,186.44 L173.15,186.82 L173.40,187.19 L173.65,187.56 L173.90,187.93 L174.15,188.30 L174.40,188.67 L174.65,189.03 L174.90,189.39 L175.15,189.75 L175.40,190.11 L175.65,190.46 L175.90,190.82 L176.15,191.17 L176.40,191.52 L176.65,191.86 L176.90,192.21 L177.15,192.55 L177.40,192.90 L177.65,193.24 L177.90,193.57 L178.15,193.91 L178.40,194.24 L178.65,194.58 L178.90,194.91 L179.15,195.24 L179.40,195.56 L179.65,195.89 L179.90,196.21 L180.15,196.53 L180.40,196.85 L180.65,197.17 L180.90,197.49 L181.15,197.80 L181.40,198.11 L181.65,198.42 L181.90,198.73 L182.15,199.04 L182.40,199.35 L182.65,199.65 L182.90,199.95 L183.15,200.25 L183.40,200.55 L183.65,200.85 L183.90,201.14 L184.15,201.44 L184.40,201.73 L184.65,202.02 L184.90,202.31 L185.15,202.60 L185.40,202.88 L185.65,203.17 L185.90,203.45 L186.15,203.73 L186.40,204.01 L186.65,204.29 L186.90,204.56 L187.15,204.84 L187.40,205.11 L187.65,205.38 L187.90,205.65 L188.15,205.92 L188.40,206.19 L188.65,206.45 L188.90,206.72 L189.15,206.98 L189.40,207.24 L189.65,207.50 L189.90,207.76 L190.15,208.01 L190.40,208.27 L190.65,208.52 L190.90,208.77 L191.15,209.02 L191.40,209.27 L191.65,209.52 L191.90,209.77 L192.15,210.01 L192.40,210.26 L192.65,210.50 L192.90,210.74 L193.15,210.98 L193.40,211.22 L193.65,211.45 L193.90,211.69 L194.15,211.92 L194.40,212.16 L194.65,212.39 L194.90,212.62 L195.15,212.85 L195.40,213.08 L195.65,213.30 L195.90,213.53 L196.15,213.75 L196.40,213.97 L196.65,214.19 L196.90,214.41 L197.15,214.63 L197.40,214.85 L197.65,215.06 L197.90,215.28 L198.15,215.49 L198.40,215.71 L198.65,215.92 L198.90,216.13 L199.15,216.34 L199.40,216.54 L199.65,216.75 L199.90,216.95 L200.15,217.16 L200.40,217.36 L200.65,217.56 L200.90,217.76 L201.15,217.96 L201.40,218.16 L201.65,218.36 L201.90,218.55 L202.15,218.75 L202.40,218.94 L202.65,219.13 L202.90,219.33 L203.15,219.52 L203.40,219.71 L203.65,219.89 L203.90,220.08 L204.15,220.27 L204.40,220.45 L204.65,220.64 L204.90,220.82 L205.15,221.00 L205.40,221.18 L205.65,221.36 L205.90,221.54 L206.15,221.72 L206.40,221.89 L206.65,222.07 L206.90,222.24 L207.15,222.42 L207.40,222.59 L207.65,222.76 L207.90,222.93 L208.15,223.10 L208.40,223.27 L208.65,223.44 L208.90,223.60 L209.15,223.77 L209.40,223.93 L209.65,224.10 L209.90,224.26 L210.15,224.42 L210.40,224.58 L210.65,224.74 L210.90,224.90 L211.15,225.06 L211.40,225.22 L211.65,225.37 L211.90,225.53 L212.15,225.68 L212.40,225.83 L212.65,225.99 L212.90,226.14 L213.15,226.29 L213.40,226.44 L213.65,226.59 L213.90,226.74 L214.15,226.88 L214.40,227.03 L214.65,227.18 L214.90,227.32 L215.15,227.46 L215.40,227.61 L215.65,227.75 L215.90,227.89 L216.15,228.03 L216.40,228.17 L216.65,228.31 L216.90,228.45 L217.15,228.59 L217.40,228.72 L217.65,228.86 L217.90,228.99 L218.15,229.13 L218.40,229.26 L218.65,229.39 L218.90,229.53 L219.15,229.66 L219.40,229.79 L219.65,229.92 L219.90,230.04 L220.15,230.17 L220.40,230.30 L220.65,230.43 L220.90,230.55 L221.15,230.68 L221.40,230.80 L221.65,230.93 L221.90,231.05 L222.15,231.17 L222.40,231.29 L222.65,231.41 L222.90,231.53 L223.15,231.65 L223.40,231.77 L223.65,231.89 L223.90,232.01 L224.15,232.12 L224.40,232.24 L224.65,232.35 L224.90,232.47 L225.15,232.58 L225.40,232.69 L225.65,232.81 L225.90,232.92 L226.15,233.03 L226.40,233.14 L226.65,233.25 L226.90,233.36 L227.15,233.47 L227.40,233.58 L227.65,233.68 L227.90,233.79 L228.15,233.90 L228.40,234.00 L228.65,234.11 L228.90,234.21 L229.15,234.31 L229.40,234.42 L229.65,234.52 L229.90,234.62 L230.15,234.72 L230.40,234.82 L230.65,234.92 L230.90,235.02 L231.15,235.12 L231.40,235.22 L231.65,235.32 L231.90,235.41 L232.15,235.51 L232.40,235.60 L232.65,235.70 L232.90,235.79 L233.15,235.89 L233.40,235.98 L233.65,236.08 L233.90,236.17 L234.15,236.26 L234.40,236.35 L234.65,236.44 L234.90,236.53 L235.15,236.62 L235.40,236.71 L235.65,236.80 L235.90,236.89 L236.15,236.98 L236.40,237.06 L236.65,237.15 L236.90,237.24 L237.15,237.32 L237.40,237.41 L237.65,237.49 L237.90,237.58 L238.15,237.66 L238.40,237.74 L238.65,237.83 L238.90,237.91 L239.15,237.99 L239.40,238.07 L239.65,238.15 L239.90,238.23 L240.15,238.31 L240.40,238.39 L240.65,238.47 L240.90,238.55 L241.15,238.63 L241.40,238.70 L241.65,238.78 L241.90,238.86 L242.15,238.93 L242.40,239.01 L242.65,239.08 L242.90,239.16 L243.15,239.23 L243.40,239.31 L243.65,239.38 L243.90,239.45 L244.15,239.53 L244.40,239.60 L244.65,239.67 L244.90,239.74 L245.15,239.81 L245.40,239.88 L245.65,239.95 L245.90,240.02 L246.15,240.09 L246.40,240.16 L246.65,240.23 L246.90,240.30 L247.15,240.37 L247.40,240.43 L247.65,240.50 L247.90,240.57 L248.15,240.63 L248.40,240.70 L248.65,240.76 L248.90,240.83 L249.15,240.89 L249.40,240.96 L249.65,241.02 L249.90,241.08 L250.15,241.15 L250.40,241.21 L250.65,241.27 L250.90,241.33 L251.15,241.39 L251.40,241.46 L251.65,241.52 L251.90,241.58 L252.15,241.64 L252.40,241.70 L252.65,241.76 L252.90,241.81 L253.15,241.87 L253.40,241.93 L253.65,241.99 L253.90,242.05 L254.15,242.10 L254.40,242.16 L254.65,242.22 L254.90,242.27 L255.15,242.33 L255.40,242.39 L255.65,242.44 L255.90,242.50 L256.15,242.55 L256.40,242.60 L256.65,242.66 L256.90,242.71 L257.15,242.77 L257.40,242.82 L257.65,242.87 L257.90,242.92 L258.15,242.98 L258.40,243.03 L258.65,243.08 L258.90,243.13 L259.15,243.18 L259.40,243.23 L259.65,243.28 L259.90,243.33 L260.15,243.38 L260.40,243.43 L260.65,243.48 L260.90,243.53 L261.15,243.58 L261.40,243.63 L261.65,243.67 L261.90,243.72 L262.15,243.77 L262.40,243.82 L262.65,243.86 L262.90,243.91 L263.15,243.96 L263.40,244.00 L263.65,244.05 L263.90,244.09 L264.15,244.14 L264.40,244.18 L264.65,244.23 L264.90,244.27 L265.15,244.32 L265.40,244.36 L265.65,244.40 L265.90,244.45 L266.15,244.49 L266.40,244.53 L266.65,244.58 L266.90,244.62 L267.15,244.66 L267.40,244.70 L267.65,244.74 L267.90,244.79 L268.15,244.83 L268.40,244.87 L268.65,244.91 L268.90,244.95 L269.15,244.99 L269.40,245.03 L269.65,245.07 L269.90,245.11 L270.15,245.15 L270.40,245.19 L270.65,245.22 L270.90,245.26 L271.15,245.30 L271.40,245.34 L271.65,245.38 L271.90,245.41 L272.15,245.45 L272.40,245.49 L272.65,245.53 L272.90,245.56 L273.15,245.60 L273.40,245.64 L273.65,245.67 L273.90,245.71 L274.15,245.74 L274.40,245.78 L274.65,245.81 L274.90,245.85 L275.15,245.88 L275.40,245.92 L275.65,245.95 L275.90,245.99 L276.15,246.02 L276.40,246.06 L276.65,246.09 L276.90,246.12 L277.15,246.16 L277.40,246.19 L277.65,246.22 L277.90,246.25 L278.15,246.29 L278.40,246.32 L278.65,246.35 L278.90,246.38 L279.15,246.42 L279.40,246.45 L279.65,246.48 L279.90,246.51 L280.15,246.54 L280.40,246.57 L280.65,246.60 L280.90,246.63 L281.15,246.66 L281.40,246.69 L281.65,246.72 L281.90,246.75 L282.15,246.78 L282.40,246.81 L282.65,246.84 L282.90,246.87 L283.15,246.90 L283.40,246.93 L283.65,246.96 L283.90,246.98 L284.15,247.01 L284.40,247.04 L284.65,247.07 L284.90,247.10 L285.15,247.12 L285.40,247.15 L285.65,247.18 L285.90,247.21 L286.15,247.23 L286.40,247.26 L286.65,247.29 L286.90,247.31 L287.15,247.34 L287.40,247.36 L287.65,247.39 L287.90,247.42 L288.15,247.44 L288.40,247.47 L288.65,247.49 L288.90,247.52 L289.15,247.54 L289.40,247.57 L289.65,247.59 L289.90,247.62 L290.15,247.64 L290.40,247.67 L290.65,247.69 L290.90,247.72 L291.15,247.74 L291.40,247.76 L291.65,247.79 L291.90,247.81 L292.15,247.83 L292.40,247.86 L292.65,247.88 L292.90,247.90 L293.15,247.93 L293.40,247.95 L293.65,247.97 L293.90,247.99 L294.15,248.02 L294.40,248.04 L294.65,248.06 L294.90,248.08 L295.15,248.10 L295.40,248.13 L295.65,248.15 L295.90,248.17 L296.15,248.19 L296.40,248.21 L296.65,248.23 L296.90,248.25 L297.15,248.27 L297.40,248.30 L297.65,248.32 L297.90,248.34 L298.15,248.36 L298.40,248.38 L298.65,248.40 L298.90,248.42 L299.15,248.44 L299.40,248.46 L299.65,248.48 L299.90,248.50 L300.15,248.52 L300.40,248.53 L300.65,248.55 L300.90,248.57 L301.15,248.59 L301.40,248.61 L301.65,248.63 L301.90,248.65 L302.15,248.67 L302.40,248.69 L302.65,248.70 L302.90,248.72 L303.15,248.74 L303.40,248.76 L303.65,248.78 L303.90,248.79 L304.15,248.81 L304.40,248.83 L304.65,248.85 L304.90,248.86 L305.15,248.88 L305.40,248.90 L305.65,248.92 L305.90,248.93 L306.15,248.95 L306.40,248.97 L306.65,248.98 L306.90,249.00 L307.15,249.02 L307.40,249.03 L307.65,249.05 L307.90,249.07 L308.15,249.08 L308.40,249.10 L308.65,249.11 L308.90,249.13 L309.15,249.15 L309.40,249.16 L309.65,249.18 L309.90,249.19 L310.15,249.21 L310.40,249.22 L310.65,249.24 L310.90,249.25 L311.15,249.27 L311.40,249.28 L311.65,249.30 L311.90,249.31 L312.15,249.33 L312.40,249.34 L312.65,249.36 L312.90,249.37 L313.15,249.39 L313.40,249.40 L313.65,249.42 L313.90,249.43 L314.15,249.44 L314.40,249.46 L314.65,249.47 L314.90,249.49 L315.15,249.50 L315.40,249.51 L315.65,249.53 L315.90,249.54 L316.15,249.55 L316.40,249.57 L316.65,249.58 L316.90,249.59 L317.15,249.61 L317.40,249.62 L317.65,249.63 L317.90,249.65 L318.15,249.66 L318.40,249.67 L318.65,249.68 L318.90,249.70 L319.15,249.71 L319.40,249.72 L319.65,249.73 L319.90,249.75 L320.15,249.76 L320.40,249.77 L320.65,249.78 L320.90,249.80 L321.15,249.81 L321.40,249.82 L321.65,249.83 L321.90,249.84 L322.15,249.86 L322.40,249.87 L322.65,249.88 L322.90,249.89 L323.15,249.90 L323.40,249.91 L323.65,249.92 L323.90,249.94 L324.15,249.95 L324.40,249.96 L324.65,249.97 L324.90,249.98 L325.15,249.99 L325.40,250.00 L325.65,250.01 L325.90,250.02 L326.15,250.03 L326.40,250.05 L326.65,250.06 L326.90,250.07 L327.15,250.08 L327.40,250.09 L327.65,250.10 L327.90,250.11 L328.15,250.12 L328.40,250.13 L328.65,250.14 L328.90,250.15 L329.15,250.16 L329.40,250.17 L329.65,250.18 L329.90,250.19 L330.15,250.20 L330.40,250.21 L330.65,250.22 L330.90,250.23 L331.15,250.24 L331.40,250.25 L331.65,250.26 L331.90,250.27 L332.15,250.28 L332.40,250.28 L332.65,250.29 L332.90,250.30 L333.15,250.31 L333.40,250.32 L333.65,250.33 L333.90,250.34 L334.15,250.35 L334.40,250.36 L334.65,250.37 L334.90,250.38 L335.15,250.38 L335.40,250.39 L335.65,250.40 L335.90,250.41 L336.15,250.42 L336.40,250.43 L336.65,250.44 L336.90,250.44 L337.15,250.45 L337.40,250.46 L337.65,250.47 L337.90,250.48 L338.15,250.49 L338.40,250.49 L338.65,250.50 L338.90,250.51 L339.15,250.52 L339.40,250.53 L339.65,250.53 L339.90,250.54 L340.15,250.55 L340.40,250.56 L340.65,250.57 L340.90,250.57 L341.15,250.58 L341.40,250.59 L341.65,250.60 L341.90,250.60 L342.15,250.61 L342.40,250.62 L342.65,250.63 L342.90,250.63 L343.15,250.64 L343.40,250.65 L343.65,250.66 L343.90,250.66 L344.15,250.67 L344.40,250.68 L344.65,250.68 L344.90,250.69 L345.15,250.70 L345.40,250.71 L345.65,250.71 L345.90,250.72 L346.15,250.73 L346.40,250.73 L346.65,250.74 L346.90,250.75 L347.15,250.75 L347.40,250.76 L347.65,250.77 L347.90,250.77 L348.15,250.78 L348.40,250.79 L348.65,250.79 L348.90,250.80 L349.15,250.81 L349.40,250.81 L349.65,250.82 L349.90,250.83 L350.15,250.83 L350.40,250.84 L350.65,250.84 L350.90,250.85 L351.15,250.86 L351.40,250.86 L351.65,250.87 L351.90,250.87 L352.15,250.88 L352.40,250.89 L352.65,250.89 L352.90,250.90 L353.15,250.90 L353.40,250.91 L353.65,250.92 L353.90,250.92 L354.15,250.93 L354.40,250.93 L354.65,250.94 L354.90,250.95 L355.15,250.95 L355.40,250.96 L355.65,250.96 L355.90,250.97 L356.15,250.97 L356.40,250.98 L356.65,250.98 L356.90,250.99 L357.15,251.00 L357.40,251.00 L357.65,251.01 L357.90,251.01 L358.15,251.02 L358.40,251.02 L358.65,251.03 L358.90,251.03 L359.15,251.04 L359.40,251.04 L359.65,251.05 L359.90,251.05 L360.15,251.06 L360.40,251.06 L360.65,251.07 L360.90,251.07 L361.15,251.08 L361.40,251.08 L361.65,251.09 L361.90,251.09 L362.15,251.10 L362.40,251.10 L362.65,251.11 L362.90,251.11 L363.15,251.12 L363.40,251.12 L363.65,251.13 L363.90,251.13 L364.15,251.14 L364.40,251.14 L364.65,251.14 L364.90,251.15 L365.15,251.15 L365.40,251.16 L365.65,251.16 L365.90,251.17 L366.15,251.17 L366.40,251.18 L366.65,251.18 L366.90,251.18 L367.15,251.19 L367.40,251.19 L367.65,251.20 L367.90,251.20 L368.15,251.21 L368.40,251.21 L368.65,251.21 L368.90,251.22 L369.15,251.22 L369.40,251.23 L369.65,251.23 L369.90,251.24 L370.15,251.24 L370.40,251.24 L370.65,251.25 L370.90,251.25 L371.15,251.26 L371.40,251.26 L371.65,251.26 L371.90,251.27 L372.15,251.27 L372.40,251.28 L372.65,251.28 L372.90,251.28 L373.15,251.29 L373.40,251.29 L373.65,251.29 L373.90,251.30 L374.15,251.30 L374.40,251.31 L374.65,251.31 L374.90,251.31 L375.15,251.32 L375.40,251.32 L375.65,251.32 L375.90,251.33 L376.15,251.33 L376.40,251.33 L376.65,251.34 L376.90,251.34 L377.15,251.35 L377.40,251.35 L377.65,251.35 L377.90,251.36 L378.15,251.36 L378.40,251.36 L378.65,251.37 L378.90,251.37 L379.15,251.37 L379.40,251.38 L379.65,251.38 L379.90,251.38 L380.15,251.39 L380.40,251.39 L380.65,251.39 L380.90,251.40 L381.15,251.40 L381.40,251.40 L381.65,251.41 L381.90,251.41 L382.15,251.41 L382.40,251.41 L382.65,251.42 L382.90,251.42 L383.15,251.42 L383.40,251.43 L383.65,251.43 L383.90,251.43 L384.15,251.44 L384.40,251.44 L384.65,251.44 L384.90,251.45 L385.15,251.45 L385.40,251.45 L385.65,251.45 L385.90,251.46 L386.15,251.46 L386.40,251.46 L386.65,251.47 L386.90,251.47 L387.15,251.47 L387.40,251.47 L387.65,251.48 L387.90,251.48 L388.15,251.48 L388.40,251.49 L388.65,251.49 L388.90,251.49 L389.15,251.49 L389.40,251.50 L389.65,251.50 L389.90,251.50 L390.15,251.50 L390.40,251.51 L390.65,251.51 L390.90,251.51 L391.15,251.51 L391.40,251.52 L391.65,251.52 L391.90,251.52 L392.15,251.52 L392.40,251.53 L392.65,251.53 L392.90,251.53 L393.15,251.53 L393.40,251.54 L393.65,251.54 L393.90,251.54 L394.15,251.54 L394.40,251.55 L394.65,251.55 L394.90,251.55 L395.15,251.55 L395.40,251.56 L395.65,251.56 L395.90,251.56 L396.15,251.56 L396.40,251.57 L396.65,251.57 L396.90,251.57 L397.15,251.57 L397.40,251.57 L397.65,251.58 L397.90,251.58 L398.15,251.58 L398.40,251.58 L398.65,251.59 L398.90,251.59 L399.15,251.59 L399.40,251.59 L399.65,251.59 L399.90,251.60 L400.15,251.60 L400.40,251.60 L400.65,251.60 L400.90,251.61 L401.15,251.61 L401.40,251.61 L401.65,251.61 L401.90,251.61 L402.15,251.62 L402.40,251.62 L402.65,251.62 L402.90,251.62 L403.15,251.62 L403.40,251.63 L403.65,251.63 L403.90,251.63 L404.15,251.63 L404.40,251.63 L404.65,251.63 L404.90,251.64 L405.15,251.64 L405.40,251.64 L405.65,251.64 L405.90,251.64 L406.15,251.65 L406.40,251.65 L406.65,251.65 L406.90,251.65 L407.15,251.65 L407.40,251.66 L407.65,251.66 L407.90,251.66 L408.15,251.66 L408.40,251.66 L408.65,251.66 L408.90,251.67 L409.15,251.67 L409.40,251.67 L409.65,251.67 L409.90,251.67 L410.15,251.67 L410.40,251.68 L410.65,251.68 L410.90,251.68 L411.15,251.68 L411.40,251.68 L411.65,251.68 L411.90,251.69 L412.15,251.69 L412.40,251.69 L412.65,251.69 L412.90,251.69 L413.15,251.69 L413.40,251.70 L413.65,251.70 L413.90,251.70 L414.15,251.70 L414.40,251.70 L414.65,251.70 L414.90,251.70 L415.15,251.71 L415.40,251.71 L415.65,251.71 L415.90,251.71 L416.15,251.71 L416.40,251.71 L416.65,251.71 L416.90,251.72 L417.15,251.72 L417.40,251.72 L417.65,251.72 L417.90,251.72 L418.15,251.72 L418.40,251.72 L418.65,251.73 L418.90,251.73 L419.15,251.73 L419.40,251.73 L419.65,251.73 L419.90,251.73 L420.15,251.73 L420.40,251.74 L420.65,251.74 L420.90,251.74 L421.15,251.74 L421.40,251.74 L421.65,251.74 L421.90,251.74 L422.15,251.74 L422.40,251.75 L422.65,251.75 L422.90,251.75 L423.15,251.75 L423.40,251.75 L423.65,251.75 L423.90,251.75 L424.15,251.75 L424.40,251.76 L424.65,251.76 L424.90,251.76 L425.15,251.76 L425.40,251.76 L425.65,251.76 L425.90,251.76 L426.15,251.76 L426.40,251.76 L426.65,251.77 L426.90,251.77 L427.15,251.77 L427.40,251.77 L427.65,251.77 L427.90,251.77 L428.15,251.77 L428.40,251.77 L428.65,251.77 L428.90,251.78 L429.15,251.78 L429.40,251.78 L429.65,251.78 L429.90,251.78 L430.15,251.78 L430.40,251.78 L430.65,251.78 L430.90,251.78 L431.15,251.78 L431.40,251.79 L431.65,251.79 L431.90,251.79 L432.15,251.79 L432.40,251.79 L432.65,251.79 L432.90,251.79 L433.15,251.79 L433.40,251.79 L433.65,251.79 L433.90,251.79 L434.15,251.80 L434.40,251.80 L434.65,251.80 L434.90,251.80 L435.15,251.80 L435.40,251.80 L435.65,251.80 L435.90,251.80" fill="none" stroke="#ff0000" stroke-width="2.7" stroke-dasharray="3.6 2.4 7.35 2.4" stroke-dashoffset="12.9"/>
<path d="M111.15,-1 L111.5,0.75" fill="none" stroke="#ff0000" stroke-width="2.7"/>
<path d="M26.10,12.26 L26.35,12.66 L26.60,13.05 L26.85,13.44 L27.10,13.83 L27.35,14.22 L27.60,14.61 L27.85,15.00 L28.10,15.39 L28.35,15.78 L28.60,16.17 L28.85,16.55 L29.10,16.94 L29.35,17.32 L29.60,17.71 L29.85,18.10 L30.10,18.48 L30.35,18.86 L30.60,19.25 L30.85,19.63 L31.10,20.01 L31.35,20.39 L31.60,20.77 L31.85,21.15 L32.10,21.53 L32.35,21.91 L32.60,22.29 L32.85,22.67 L33.10,23.05 L33.35,23.43 L33.60,23.80 L33.85,24.18 L34.10,24.55 L34.35,24.93 L34.60,25.30 L34.85,25.68 L35.10,26.05 L35.35,26.42 L35.60,26.80 L35.85,27.17 L36.10,27.54 L36.35,27.91 L36.60,28.28 L36.85,28.65 L37.10,29.02 L37.35,29.39 L37.60,29.75 L37.85,30.12 L38.10,30.49 L38.35,30.86 L38.60,31.22 L38.85,31.59 L39.10,31.95 L39.35,32.32 L39.60,32.68 L39.85,33.04 L40.10,33.40 L40.35,33.77 L40.60,34.13 L40.85,34.49 L41.10,34.85 L41.35,35.21 L41.60,35.57 L41.85,35.93 L42.10,36.29 L42.35,36.64 L42.60,37.00 L42.85,37.36 L43.10,37.71 L43.35,38.07 L43.60,38.42 L43.85,38.78 L44.10,39.13 L44.35,39.49 L44.60,39.84 L44.85,40.19 L45.10,40.54 L45.35,40.90 L45.60,41.25 L45.85,41.60 L46.10,41.95 L46.35,42.30 L46.60,42.65 L46.85,42.99 L47.10,43.34 L47.35,43.69 L47.60,44.04 L47.85,44.38 L48.10,44.73 L48.35,45.07 L48.60,45.42 L48.85,45.76 L49.10,46.11 L49.35,46.45 L49.60,46.79 L49.85,47.13 L50.10,47.48 L50.35,47.82 L50.60,48.16 L50.85,48.50 L51.10,48.84 L51.35,49.18 L51.60,49.52 L51.85,49.85 L52.10,50.19 L52.35,50.53 L52.60,50.87 L52.85,51.20 L53.10,51.54 L53.35,51.87 L53.60,52.21 L53.85,52.54 L54.10,52.88 L54.35,53.21 L54.60,53.54 L54.85,53.87 L55.10,54.20 L55.35,54.54 L55.60,54.87 L55.85,55.20 L56.10,55.53 L56.35,55.86 L56.60,56.18 L56.85,56.51 L57.10,56.84 L57.35,57.17 L57.60,57.49 L57.85,57.82 L58.10,58.15 L58.35,58.47 L58.60,58.80 L58.85,59.12 L59.10,59.44 L59.35,59.77 L59.60,60.09 L59.85,60.41 L60.10,60.73 L60.35,61.06 L60.60,61.38 L60.85,61.70 L61.10,62.02 L61.35,62.34 L61.60,62.66 L61.85,62.97 L62.10,63.29 L62.35,63.61 L62.60,63.93 L62.85,64.24 L63.10,64.56 L63.35,64.87 L63.60,65.19 L63.85,65.50 L64.10,65.82 L64.35,66.13 L64.60,66.44 L64.85,66.76 L65.10,67.07 L65.35,67.38 L65.60,67.69 L65.85,68.00 L66.10,68.31 L66.35,68.62 L66.60,68.93 L66.85,69.24 L67.10,69.55 L67.35,69.86 L67.60,70.17 L67.85,70.47 L68.10,70.78 L68.35,71.09 L68.60,71.39 L68.85,71.70 L69.10,72.00 L69.35,72.31 L69.60,72.61 L69.85,72.91 L70.10,73.22 L70.35,73.52 L70.60,73.82 L70.85,74.12 L71.10,74.42 L71.35,74.72 L71.60,75.02 L71.85,75.32 L72.10,75.62 L72.35,75.92 L72.60,76.22 L72.85,76.52 L73.10,76.81 L73.35,77.11 L73.60,77.41 L73.85,77.70 L74.10,78.00 L74.35,78.29 L74.60,78.59 L74.85,78.88 L75.10,79.18 L75.35,79.47 L75.60,79.76 L75.85,80.05 L76.10,80.35 L76.35,80.64 L76.60,80.93 L76.85,81.22 L77.10,81.51 L77.35,81.80 L77.60,82.09 L77.85,82.38 L78.10,82.67 L78.35,82.95 L78.60,83.24 L78.85,83.53 L79.10,83.81 L79.35,84.10 L79.60,84.39 L79.85,84.67 L80.10,84.96 L80.35,85.24 L80.60,85.52 L80.85,85.81 L81.10,86.09 L81.35,86.37 L81.60,86.66 L81.85,86.94 L82.10,87.22 L82.35,87.50 L82.60,87.78 L82.85,88.06 L83.10,88.34 L83.35,88.62 L83.60,88.90 L83.85,89.18 L84.10,89.45 L84.35,89.73 L84.60,90.01 L84.85,90.28 L85.10,90.56 L85.35,90.84 L85.60,91.11 L85.85,91.39 L86.10,91.66 L86.35,91.93 L86.60,92.21 L86.85,92.48 L87.10,92.75 L87.35,93.03 L87.60,93.30 L87.85,93.57 L88.10,93.84 L88.35,94.11 L88.60,94.38 L88.85,94.65 L89.10,94.92 L89.35,95.19 L89.60,95.46 L89.85,95.73 L90.10,95.99 L90.35,96.26 L90.60,96.53 L90.85,96.79 L91.10,97.06 L91.35,97.33 L91.60,97.59 L91.85,97.86 L92.10,98.12 L92.35,98.38 L92.60,98.65 L92.85,98.91 L93.10,99.17 L93.35,99.43 L93.60,99.70 L93.85,99.96 L94.10,100.22 L94.35,100.48 L94.60,100.74 L94.85,101.00 L95.10,101.26 L95.35,101.52 L95.60,101.78 L95.85,102.03 L96.10,102.29 L96.35,102.55 L96.60,102.81 L96.85,103.06 L97.10,103.32 L97.35,103.57 L97.60,103.83 L97.85,104.09 L98.10,104.34 L98.35,104.59 L98.60,104.85 L98.85,105.10 L99.10,105.35 L99.35,105.61 L99.60,105.86 L99.85,106.11 L100.10,106.36 L100.35,106.61 L100.60,106.86 L100.85,107.11 L101.10,107.36 L101.35,107.61 L101.60,107.86 L101.85,108.11 L102.10,108.36 L102.35,108.61 L102.60,108.85 L102.85,109.10 L103.10,109.35 L103.35,109.59 L103.60,109.84 L103.85,110.08 L104.10,110.33 L104.35,110.57 L104.60,110.82 L104.85,111.06 L105.10,111.30 L105.35,111.55 L105.60,111.79 L105.85,112.03 L106.10,112.28 L106.35,112.52 L106.60,112.76 L106.85,113.00 L107.10,113.24 L107.35,113.48 L107.60,113.72 L107.85,113.96 L108.10,114.20 L108.35,114.44 L108.60,114.67 L108.85,114.91 L109.10,115.15 L109.35,115.39 L109.60,115.62 L109.85,115.86 L110.10,116.09 L110.35,116.33 L110.60,116.56 L110.85,116.80 L111.10,117.03 L111.35,117.27 L111.60,117.50 L111.85,117.73 L112.10,117.97 L112.35,118.20 L112.60,118.43 L112.85,118.66 L113.10,118.90 L113.35,119.13 L113.60,119.36 L113.85,119.59 L114.10,119.82 L114.35,120.05 L114.60,120.28 L114.85,120.50 L115.10,120.73 L115.35,120.96 L115.60,121.19 L115.85,121.42 L116.10,121.64 L116.35,121.87 L116.60,122.10 L116.85,122.32 L117.10,122.55 L117.35,122.77 L117.60,123.00 L117.85,123.22 L118.10,123.45 L118.35,123.67 L118.60,123.89 L118.85,124.12 L119.10,124.34 L119.35,124.56 L119.60,124.78 L119.85,125.00 L120.10,125.22 L120.35,125.45 L120.60,125.67 L120.85,125.89 L121.10,126.11 L121.35,126.33 L121.60,126.54 L121.85,126.76 L122.10,126.98 L122.35,127.20 L122.60,127.42 L122.85,127.63 L123.10,127.85 L123.35,128.07 L123.60,128.28 L123.85,128.50 L124.10,128.72 L124.35,128.93 L124.60,129.15 L124.85,129.36 L125.10,129.57 L125.35,129.79 L125.60,130.00 L125.85,130.21 L126.10,130.43 L126.35,130.64 L126.60,130.85 L126.85,131.06 L127.10,131.27 L127.35,131.49 L127.60,131.70 L127.85,131.91 L128.10,132.12 L128.35,132.33 L128.60,132.54 L128.85,132.75 L129.10,132.95 L129.35,133.16 L129.60,133.37 L129.85,133.58 L130.10,133.78 L130.35,133.99 L130.60,134.20 L130.85,134.40 L131.10,134.61 L131.35,134.82 L131.60,135.02 L131.85,135.23 L132.10,135.43 L132.35,135.64 L132.60,135.84 L132.85,136.04 L133.10,136.25 L133.35,136.45 L133.60,136.65 L133.85,136.85 L134.10,137.06 L134.35,137.26 L134.60,137.46 L134.85,137.66 L135.10,137.86 L135.35,138.06 L135.60,138.26 L135.85,138.46 L136.10,138.66 L136.35,138.86 L136.60,139.06 L136.85,139.26 L137.10,139.45 L137.35,139.65 L137.60,139.85 L137.85,140.05 L138.10,140.24 L138.35,140.44 L138.60,140.64 L138.85,140.83 L139.10,141.03 L139.35,141.22 L139.60,141.42 L139.85,141.61 L140.10,141.81 L140.35,142.00 L140.60,142.19 L140.85,142.39 L141.10,142.58 L141.35,142.77 L141.60,142.96 L141.85,143.16 L142.10,143.35 L142.35,143.54 L142.60,143.73 L142.85,143.92 L143.10,144.11 L143.35,144.30 L143.60,144.49 L143.85,144.68 L144.10,144.87 L144.35,145.06 L144.60,145.25 L144.85,145.43 L145.10,145.62 L145.35,145.81 L145.60,146.00 L145.85,146.18 L146.10,146.37 L146.35,146.56 L146.60,146.74 L146.85,146.93 L147.10,147.11 L147.35,147.30 L147.60,147.48 L147.85,147.67 L148.10,147.85 L148.35,148.04 L148.60,148.22 L148.85,148.40 L149.10,148.59 L149.35,148.77 L149.60,148.95 L149.85,149.13 L150.10,149.32 L150.35,149.50 L150.60,149.68 L150.85,149.86 L151.10,150.04 L151.35,150.22 L151.60,150.40 L151.85,150.58 L152.10,150.76 L152.35,150.94 L152.60,151.12 L152.85,151.30 L153.10,151.47 L153.35,151.65 L153.60,151.83 L153.85,152.01 L154.10,152.18 L154.35,152.36 L154.60,152.54 L154.85,152.71 L155.10,152.89 L155.35,153.06 L155.60,153.24 L155.85,153.41 L156.10,153.59 L156.35,153.76 L156.60,153.94 L156.85,154.11 L157.10,154.29 L157.35,154.46 L157.60,154.63 L157.85,154.80 L158.10,154.98 L158.35,155.15 L158.60,155.32 L158.85,155.49 L159.10,155.66 L159.35,155.83 L159.60,156.00 L159.85,156.18 L160.10,156.35 L160.35,156.52 L160.60,156.68 L160.85,156.85 L161.10,157.02 L161.35,157.19 L161.60,157.36 L161.85,157.53 L162.10,157.70 L162.35,157.86 L162.60,158.03 L162.85,158.20 L163.10,158.36 L163.35,158.53 L163.60,158.70 L163.85,158.86 L164.10,159.03 L164.35,159.19 L164.60,159.36 L164.85,159.52 L165.10,159.69 L165.35,159.85 L165.60,160.02 L165.85,160.18 L166.10,160.34 L166.35,160.51 L166.60,160.67 L166.85,160.83 L167.10,160.99 L167.35,161.16 L167.60,161.32 L167.85,161.48 L168.10,161.64 L168.35,161.80 L168.60,161.96 L168.85,162.12 L169.10,162.28 L169.35,162.44 L169.60,162.60 L169.85,162.76 L170.10,162.92 L170.35,163.08 L170.60,163.24 L170.85,163.40 L171.10,163.55 L171.35,163.71 L171.60,163.87 L171.85,164.03 L172.10,164.18 L172.35,164.34 L172.60,164.50 L172.85,164.65 L173.10,164.81 L173.35,164.96 L173.60,165.12 L173.85,165.27 L174.10,165.43 L174.35,165.58 L174.60,165.74 L174.85,165.89 L175.10,166.05 L175.35,166.20 L175.60,166.35 L175.85,166.50 L176.10,166.66 L176.35,166.81 L176.60,166.96 L176.85,167.11 L177.10,167.27 L177.35,167.42 L177.60,167.57 L177.85,167.72 L178.10,167.87 L178.35,168.02 L178.60,168.17 L178.85,168.32 L179.10,168.47 L179.35,168.62 L179.60,168.77 L179.85,168.92 L180.10,169.07 L180.35,169.21 L180.60,169.36 L180.85,169.51 L181.10,169.66 L181.35,169.81 L181.60,169.95 L181.85,170.10 L182.10,170.25 L182.35,170.39 L182.60,170.54 L182.85,170.68 L183.10,170.83 L183.35,170.98 L183.60,171.12 L183.85,171.27 L184.10,171.41 L184.35,171.56 L184.60,171.70 L184.85,171.84 L185.10,171.99 L185.35,172.13 L185.60,172.27 L185.85,172.42 L186.10,172.56 L186.35,172.70 L186.60,172.84 L186.85,172.99 L187.10,173.13 L187.35,173.27 L187.60,173.41 L187.85,173.55 L188.10,173.69 L188.35,173.83 L188.60,173.97 L188.85,174.11 L189.10,174.25 L189.35,174.39 L189.60,174.53 L189.85,174.67 L190.10,174.81 L190.35,174.95 L190.60,175.09 L190.85,175.22 L191.10,175.36 L191.35,175.50 L191.60,175.64 L191.85,175.77 L192.10,175.91 L192.35,176.05 L192.60,176.19 L192.85,176.32 L193.10,176.46 L193.35,176.59 L193.60,176.73 L193.85,176.86 L194.10,177.00 L194.35,177.13 L194.60,177.27 L194.85,177.40 L195.10,177.54 L195.35,177.67 L195.60,177.81 L195.85,177.94 L196.10,178.07 L196.35,178.20 L196.60,178.34 L196.85,178.47 L197.10,178.60 L197.35,178.73 L197.60,178.87 L197.85,179.00 L198.10,179.13 L198.35,179.26 L198.60,179.39 L198.85,179.52 L199.10,179.65 L199.35,179.78 L199.60,179.91 L199.85,180.04 L200.10,180.17 L200.35,180.30 L200.60,180.43 L200.85,180.56 L201.10,180.69 L201.35,180.82 L201.60,180.95 L201.85,181.07 L202.10,181.20 L202.35,181.33 L202.60,181.46 L202.85,181.58 L203.10,181.71 L203.35,181.84 L203.60,181.97 L203.85,182.09 L204.10,182.22 L204.35,182.34 L204.60,182.47 L204.85,182.59 L205.10,182.72 L205.35,182.85 L205.60,182.97 L205.85,183.09 L206.10,183.22 L206.35,183.34 L206.60,183.47 L206.85,183.59 L207.10,183.71 L207.35,183.84 L207.60,183.96 L207.85,184.08 L208.10,184.21 L208.35,184.33 L208.60,184.45 L208.85,184.57 L209.10,184.70 L209.35,184.82 L209.60,184.94 L209.85,185.06 L210.10,185.18 L210.35,185.30 L210.60,185.42 L210.85,185.54 L211.10,185.66 L211.35,185.78 L211.60,185.90 L211.85,186.02 L212.10,186.14 L212.35,186.26 L212.60,186.38 L212.85,186.50 L213.10,186.62 L213.35,186.73 L213.60,186.85 L213.85,186.97 L214.10,187.09 L214.35,187.21 L214.60,187.32 L214.85,187.44 L215.10,187.56 L215.35,187.67 L215.60,187.79 L215.85,187.91 L216.10,188.02 L216.35,188.14 L216.60,188.25 L216.85,188.37 L217.10,188.48 L217.35,188.60 L217.60,188.71 L217.85,188.83 L218.10,188.94 L218.35,189.06 L218.60,189.17 L218.85,189.29 L219.10,189.40 L219.35,189.51 L219.60,189.63 L219.85,189.74 L220.10,189.85 L220.35,189.97 L220.60,190.08 L220.85,190.19 L221.10,190.30 L221.35,190.41 L221.60,190.53 L221.85,190.64 L222.10,190.75 L222.35,190.86 L222.60,190.97 L222.85,191.08 L223.10,191.19 L223.35,191.30 L223.60,191.41 L223.85,191.52 L224.10,191.63 L224.35,191.74 L224.60,191.85 L224.85,191.96 L225.10,192.07 L225.35,192.18 L225.60,192.29 L225.85,192.40 L226.10,192.50 L226.35,192.61 L226.60,192.72 L226.85,192.83 L227.10,192.93 L227.35,193.04 L227.60,193.15 L227.85,193.26 L228.10,193.36 L228.35,193.47 L228.60,193.58 L228.85,193.68 L229.10,193.79 L229.35,193.89 L229.60,194.00 L229.85,194.10 L230.10,194.21 L230.35,194.31 L230.60,194.42 L230.85,194.52 L231.10,194.63 L231.35,194.73 L231.60,194.84 L231.85,194.94 L232.10,195.05 L232.35,195.15 L232.60,195.25 L232.85,195.36 L233.10,195.46 L233.35,195.56 L233.60,195.66 L233.85,195.77 L234.10,195.87 L234.35,195.97 L234.60,196.07 L234.85,196.18 L235.10,196.28 L235.35,196.38 L235.60,196.48 L235.85,196.58 L236.10,196.68 L236.35,196.78 L236.60,196.88 L236.85,196.98 L237.10,197.08 L237.35,197.18 L237.60,197.28 L237.85,197.38 L238.10,197.48 L238.35,197.58 L238.60,197.68 L238.85,197.78 L239.10,197.88 L239.35,197.98 L239.60,198.08 L239.85,198.17 L240.10,198.27 L240.35,198.37 L240.60,198.47 L240.85,198.57 L241.10,198.66 L241.35,198.76 L241.60,198.86 L241.85,198.95 L242.10,199.05 L242.35,199.15 L242.60,199.24 L242.85,199.34 L243.10,199.44 L243.35,199.53 L243.60,199.63 L243.85,199.72 L244.10,199.82 L244.35,199.91 L244.60,200.01 L244.85,200.10 L245.10,200.20 L245.35,200.29 L245.60,200.39 L245.85,200.48 L246.10,200.58 L246.35,200.67 L246.60,200.76 L246.85,200.86 L247.10,200.95 L247.35,201.04 L247.60,201.14 L247.85,201.23 L248.10,201.32 L248.35,201.41 L248.60,201.51 L248.85,201.60 L249.10,201.69 L249.35,201.78 L249.60,201.88 L249.85,201.97 L250.10,202.06 L250.35,202.15 L250.60,202.24 L250.85,202.33 L251.10,202.42 L251.35,202.51 L251.60,202.60 L251.85,202.69 L252.10,202.78 L252.35,202.87 L252.60,202.96 L252.85,203.05 L253.10,203.14 L253.35,203.23 L253.60,203.32 L253.85,203.41 L254.10,203.50 L254.35,203.59 L254.60,203.68 L254.85,203.76 L255.10,203.85 L255.35,203.94 L255.60,204.03 L255.85,204.12 L256.10,204.20 L256.35,204.29 L256.60,204.38 L256.85,204.47 L257.10,204.55 L257.35,204.64 L257.60,204.73 L257.85,204.81 L258.10,204.90 L258.35,204.99 L258.60,205.07 L258.85,205.16 L259.10,205.24 L259.35,205.33 L259.60,205.41 L259.85,205.50 L260.10,205.59 L260.35,205.67 L260.60,205.75 L260.85,205.84 L261.10,205.92 L261.35,206.01 L261.60,206.09 L261.85,206.18 L262.10,206.26 L262.35,206.34 L262.60,206.43 L262.85,206.51 L263.10,206.60 L263.35,206.68 L263.60,206.76 L263.85,206.84 L264.10,206.93 L264.35,207.01 L264.60,207.09 L264.85,207.17 L265.10,207.26 L265.35,207.34 L265.60,207.42 L265.85,207.50 L266.10,207.58 L266.35,207.67 L266.60,207.75 L266.85,207.83 L267.10,207.91 L267.35,207.99 L267.60,208.07 L267.85,208.15 L268.10,208.23 L268.35,208.31 L268.60,208.39 L268.85,208.47 L269.10,208.55 L269.35,208.63 L269.60,208.71 L269.85,208.79 L270.10,208.87 L270.35,208.95 L270.60,209.03 L270.85,209.11 L271.10,209.19 L271.35,209.26 L271.60,209.34 L271.85,209.42 L272.10,209.50 L272.35,209.58 L272.60,209.65 L272.85,209.73 L273.10,209.81 L273.35,209.89 L273.60,209.96 L273.85,210.04 L274.10,210.12 L274.35,210.20 L274.60,210.27 L274.85,210.35 L275.10,210.43 L275.35,210.50 L275.60,210.58 L275.85,210.65 L276.10,210.73 L276.35,210.81 L276.60,210.88 L276.85,210.96 L277.10,211.03 L277.35,211.11 L277.60,211.18 L277.85,211.26 L278.10,211.33 L278.35,211.41 L278.60,211.48 L278.85,211.56 L279.10,211.63 L279.35,211.71 L279.60,211.78 L279.85,211.85 L280.10,211.93 L280.35,212.00 L280.60,212.07 L280.85,212.15 L281.10,212.22 L281.35,212.29 L281.60,212.37 L281.85,212.44 L282.10,212.51 L282.35,212.59 L282.60,212.66 L282.85,212.73 L283.10,212.80 L283.35,212.87 L283.60,212.95 L283.85,213.02 L284.10,213.09 L284.35,213.16 L284.60,213.23 L284.85,213.30 L285.10,213.38 L285.35,213.45 L285.60,213.52 L285.85,213.59 L286.10,213.66 L286.35,213.73 L286.60,213.80 L286.85,213.87 L287.10,213.94 L287.35,214.01 L287.60,214.08 L287.85,214.15 L288.10,214.22 L288.35,214.29 L288.60,214.36 L288.85,214.43 L289.10,214.50 L289.35,214.57 L289.60,214.63 L289.85,214.70 L290.10,214.77 L290.35,214.84 L290.60,214.91 L290.85,214.98 L291.10,215.05 L291.35,215.11 L291.60,215.18 L291.85,215.25 L292.10,215.32 L292.35,215.38 L292.60,215.45 L292.85,215.52 L293.10,215.59 L293.35,215.65 L293.60,215.72 L293.85,215.79 L294.10,215.85 L294.35,215.92 L294.60,215.99 L294.85,216.05 L295.10,216.12 L295.35,216.19 L295.60,216.25 L295.85,216.32 L296.10,216.38 L296.35,216.45 L296.60,216.51 L296.85,216.58 L297.10,216.65 L297.35,216.71 L297.60,216.78 L297.85,216.84 L298.10,216.91 L298.35,216.97 L298.60,217.03 L298.85,217.10 L299.10,217.16 L299.35,217.23 L299.60,217.29 L299.85,217.36 L300.10,217.42 L300.35,217.48 L300.60,217.55 L300.85,217.61 L301.10,217.67 L301.35,217.74 L301.60,217.80 L301.85,217.86 L302.10,217.93 L302.35,217.99 L302.60,218.05 L302.85,218.11 L303.10,218.18 L303.35,218.24 L303.60,218.30 L303.85,218.36 L304.10,218.43 L304.35,218.49 L304.60,218.55 L304.85,218.61 L305.10,218.67 L305.35,218.73 L305.60,218.80 L305.85,218.86 L306.10,218.92 L306.35,218.98 L306.60,219.04 L306.85,219.10 L307.10,219.16 L307.35,219.22 L307.60,219.28 L307.85,219.34 L308.10,219.40 L308.35,219.46 L308.60,219.52 L308.85,219.58 L309.10,219.64 L309.35,219.70 L309.60,219.76 L309.85,219.82 L310.10,219.88 L310.35,219.94 L310.60,220.00 L310.85,220.06 L311.10,220.12 L311.35,220.18 L311.60,220.24 L311.85,220.29 L312.10,220.35 L312.35,220.41 L312.60,220.47 L312.85,220.53 L313.10,220.59 L313.35,220.64 L313.60,220.70 L313.85,220.76 L314.10,220.82 L314.35,220.88 L314.60,220.93 L314.85,220.99 L315.10,221.05 L315.35,221.10 L315.60,221.16 L315.85,221.22 L316.10,221.28 L316.35,221.33 L316.60,221.39 L316.85,221.45 L317.10,221.50 L317.35,221.56 L317.60,221.61 L317.85,221.67 L318.10,221.73 L318.35,221.78 L318.60,221.84 L318.85,221.89 L319.10,221.95 L319.35,222.01 L319.60,222.06 L319.85,222.12 L320.10,222.17 L320.35,222.23 L320.60,222.28 L320.85,222.34 L321.10,222.39 L321.35,222.45 L321.60,222.50 L321.85,222.56 L322.10,222.61 L322.35,222.66 L322.60,222.72 L322.85,222.77 L323.10,222.83 L323.35,222.88 L323.60,222.93 L323.85,222.99 L324.10,223.04 L324.35,223.10 L324.60,223.15 L324.85,223.20 L325.10,223.26 L325.35,223.31 L325.60,223.36 L325.85,223.41 L326.10,223.47 L326.35,223.52 L326.60,223.57 L326.85,223.63 L327.10,223.68 L327.35,223.73 L327.60,223.78 L327.85,223.83 L328.10,223.89 L328.35,223.94 L328.60,223.99 L328.85,224.04 L329.10,224.09 L329.35,224.15 L329.60,224.20 L329.85,224.25 L330.10,224.30 L330.35,224.35 L330.60,224.40 L330.85,224.45 L331.10,224.50 L331.35,224.56 L331.60,224.61 L331.85,224.66 L332.10,224.71 L332.35,224.76 L332.60,224.81 L332.85,224.86 L333.10,224.91 L333.35,224.96 L333.60,225.01 L333.85,225.06 L334.10,225.11 L334.35,225.16 L334.60,225.21 L334.85,225.26 L335.10,225.31 L335.35,225.36 L335.60,225.41 L335.85,225.45 L336.10,225.50 L336.35,225.55 L336.60,225.60 L336.85,225.65 L337.10,225.70 L337.35,225.75 L337.60,225.80 L337.85,225.85 L338.10,225.89 L338.35,225.94 L338.60,225.99 L338.85,226.04 L339.10,226.09 L339.35,226.13 L339.60,226.18 L339.85,226.23 L340.10,226.28 L340.35,226.33 L340.60,226.37 L340.85,226.42 L341.10,226.47 L341.35,226.52 L341.60,226.56 L341.85,226.61 L342.10,226.66 L342.35,226.70 L342.60,226.75 L342.85,226.80 L343.10,226.84 L343.35,226.89 L343.60,226.94 L343.85,226.98 L344.10,227.03 L344.35,227.08 L344.60,227.12 L344.85,227.17 L345.10,227.21 L345.35,227.26 L345.60,227.31 L345.85,227.35 L346.10,227.40 L346.35,227.44 L346.60,227.49 L346.85,227.53 L347.10,227.58 L347.35,227.62 L347.60,227.67 L347.85,227.71 L348.10,227.76 L348.35,227.80 L348.60,227.85 L348.85,227.89 L349.10,227.94 L349.35,227.98 L349.60,228.03 L349.85,228.07 L350.10,228.12 L350.35,228.16 L350.60,228.20 L350.85,228.25 L351.10,228.29 L351.35,228.34 L351.60,228.38 L351.85,228.42 L352.10,228.47 L352.35,228.51 L352.60,228.55 L352.85,228.60 L353.10,228.64 L353.35,228.68 L353.60,228.73 L353.85,228.77 L354.10,228.81 L354.35,228.86 L354.60,228.90 L354.85,228.94 L355.10,228.99 L355.35,229.03 L355.60,229.07 L355.85,229.11 L356.10,229.16 L356.35,229.20 L356.60,229.24 L356.85,229.28 L357.10,229.32 L357.35,229.37 L357.60,229.41 L357.85,229.45 L358.10,229.49 L358.35,229.53 L358.60,229.58 L358.85,229.62 L359.10,229.66 L359.35,229.70 L359.60,229.74 L359.85,229.78 L360.10,229.82 L360.35,229.86 L360.60,229.91 L360.85,229.95 L361.10,229.99 L361.35,230.03 L361.60,230.07 L361.85,230.11 L362.10,230.15 L362.35,230.19 L362.60,230.23 L362.85,230.27 L363.10,230.31 L363.35,230.35 L363.60,230.39 L363.85,230.43 L364.10,230.47 L364.35,230.51 L364.60,230.55 L364.85,230.59 L365.10,230.63 L365.35,230.67 L365.60,230.71 L365.85,230.75 L366.10,230.79 L366.35,230.83 L366.60,230.87 L366.85,230.91 L367.10,230.95 L367.35,230.99 L367.60,231.02 L367.85,231.06 L368.10,231.10 L368.35,231.14 L368.60,231.18 L368.85,231.22 L369.10,231.26 L369.35,231.29 L369.60,231.33 L369.85,231.37 L370.10,231.41 L370.35,231.45 L370.60,231.49 L370.85,231.52 L371.10,231.56 L371.35,231.60 L371.60,231.64 L371.85,231.68 L372.10,231.71 L372.35,231.75 L372.60,231.79 L372.85,231.83 L373.10,231.86 L373.35,231.90 L373.60,231.94 L373.85,231.97 L374.10,232.01 L374.35,232.05 L374.60,232.09 L374.85,232.12 L375.10,232.16 L375.35,232.20 L375.60,232.23 L375.85,232.27 L376.10,232.31 L376.35,232.34 L376.60,232.38 L376.85,232.42 L377.10,232.45 L377.35,232.49 L377.60,232.52 L377.85,232.56 L378.10,232.60 L378.35,232.63 L378.60,232.67 L378.85,232.70 L379.10,232.74 L379.35,232.78 L379.60,232.81 L379.85,232.85 L380.10,232.88 L380.35,232.92 L380.60,232.95 L380.85,232.99 L381.10,233.02 L381.35,233.06 L381.60,233.09 L381.85,233.13 L382.10,233.16 L382.35,233.20 L382.60,233.23 L382.85,233.27 L383.10,233.30 L383.35,233.34 L383.60,233.37 L383.85,233.41 L384.10,233.44 L384.35,233.48 L384.60,233.51 L384.85,233.55 L385.10,233.58 L385.35,233.61 L385.60,233.65 L385.85,233.68 L386.10,233.72 L386.35,233.75 L386.60,233.78 L386.85,233.82 L387.10,233.85 L387.35,233.88 L387.60,233.92 L387.85,233.95 L388.10,233.99 L388.35,234.02 L388.60,234.05 L388.85,234.09 L389.10,234.12 L389.35,234.15 L389.60,234.18 L389.85,234.22 L390.10,234.25 L390.35,234.28 L390.60,234.32 L390.85,234.35 L391.10,234.38 L391.35,234.41 L391.60,234.45 L391.85,234.48 L392.10,234.51 L392.35,234.54 L392.60,234.58 L392.85,234.61 L393.10,234.64 L393.35,234.67 L393.60,234.71 L393.85,234.74 L394.10,234.77 L394.35,234.80 L394.60,234.83 L394.85,234.87 L395.10,234.90 L395.35,234.93 L395.60,234.96 L395.85,234.99 L396.10,235.02 L396.35,235.06 L396.60,235.09 L396.85,235.12 L397.10,235.15 L397.35,235.18 L397.60,235.21 L397.85,235.24 L398.10,235.27 L398.35,235.31 L398.60,235.34 L398.85,235.37 L399.10,235.40 L399.35,235.43 L399.60,235.46 L399.85,235.49 L400.10,235.52 L400.35,235.55 L400.60,235.58 L400.85,235.61 L401.10,235.64 L401.35,235.67 L401.60,235.70 L401.85,235.73 L402.10,235.76 L402.35,235.79 L402.60,235.82 L402.85,235.85 L403.10,235.88 L403.35,235.91 L403.60,235.94 L403.85,235.97 L404.10,236.00 L404.35,236.03 L404.60,236.06 L404.85,236.09 L405.10,236.12 L405.35,236.15 L405.60,236.18 L405.85,236.21 L406.10,236.24 L406.35,236.27 L406.60,236.30 L406.85,236.33 L407.10,236.35 L407.35,236.38 L407.60,236.41 L407.85,236.44 L408.10,236.47 L408.35,236.50 L408.60,236.53 L408.85,236.56 L409.10,236.59 L409.35,236.61 L409.60,236.64 L409.85,236.67 L410.10,236.70 L410.35,236.73 L410.60,236.76 L410.85,236.78 L411.10,236.81 L411.35,236.84 L411.60,236.87 L411.85,236.90 L412.10,236.92 L412.35,236.95 L412.60,236.98 L412.85,237.01 L413.10,237.04 L413.35,237.06 L413.60,237.09 L413.85,237.12 L414.10,237.15 L414.35,237.17 L414.60,237.20 L414.85,237.23 L415.10,237.26 L415.35,237.28 L415.60,237.31 L415.85,237.34 L416.10,237.37 L416.35,237.39 L416.60,237.42 L416.85,237.45 L417.10,237.47 L417.35,237.50 L417.60,237.53 L417.85,237.55 L418.10,237.58 L418.35,237.61 L418.60,237.63 L418.85,237.66 L419.10,237.69 L419.35,237.71 L419.60,237.74 L419.85,237.77 L420.10,237.79 L420.35,237.82 L420.60,237.85 L420.85,237.87 L421.10,237.90 L421.35,237.93 L421.60,237.95 L421.85,237.98 L422.10,238.00 L422.35,238.03 L422.60,238.05 L422.85,238.08 L423.10,238.11 L423.35,238.13 L423.60,238.16 L423.85,238.18 L424.10,238.21 L424.35,238.23 L424.60,238.26 L424.85,238.29 L425.10,238.31 L425.35,238.34 L425.60,238.36 L425.85,238.39 L426.10,238.41 L426.35,238.44 L426.60,238.46 L426.85,238.49 L427.10,238.51 L427.35,238.54 L427.60,238.56 L427.85,238.59 L428.10,238.61 L428.35,238.64 L428.60,238.66 L428.85,238.69 L429.10,238.71 L429.35,238.74 L429.60,238.76 L429.85,238.79 L430.10,238.81 L430.35,238.83 L430.60,238.86 L430.85,238.88 L431.10,238.91 L431.35,238.93 L431.60,238.96 L431.85,238.98 L432.10,239.00 L432.35,239.03 L432.60,239.05 L432.85,239.08 L433.10,239.10 L433.35,239.12 L433.60,239.15 L433.85,239.17 L434.10,239.20 L434.35,239.22 L434.60,239.24" fill="none" stroke="#00ff00" stroke-width="3.0" stroke-dasharray="3.6 2.454" stroke-dashoffset="0.85"/>
<circle cx="259.1" cy="19.2" r="2.5" fill="#000"/>
<line x1="253.2" y1="50.7" x2="300.5" y2="50.7" stroke="#5279b3" stroke-width="1.9"/>
<line x1="253.1" y1="75.2" x2="300" y2="75.2" stroke="#e0991c" stroke-width="2.7" stroke-dasharray="7.5 2.2"/>
<line x1="253.1" y1="99.5" x2="300" y2="99.5" stroke="#ff0000" stroke-width="2.8" stroke-dasharray="3.9 2.1 7.6 2.1"/>
<line x1="253.1" y1="123.4" x2="300" y2="123.4" stroke="#00ff00" stroke-width="2.9" stroke-dasharray="3.8 2.3"/>
</svg>
<div class="t yl" style="top:203px">0.02</div>
<div class="t yl" style="top:161px">0.04</div>
<div class="t yl" style="top:119px">0.06</div>
<div class="t yl" style="top:76px">0.08</div>
<div class="t yl" style="top:34px">0.10</div>
<div class="t xl" style="left:91.9px">500</div>
<div class="t xl" style="left:178.0px">1000</div>
<div class="t xl" style="left:263.0px">1500</div>
<div class="t xl" style="left:348.2px">2000</div>
<div class="lg" style="left:272.6px;top:14.1px">Data</div>
<div class="lg" style="left:309.1px;top:45.1px">Polynomial fit</div>
<div class="lg" style="left:309.1px;top:69.1px">Mean constraint</div>
<div class="lg" style="left:309.1px;top:93.1px">Correlation constraint</div>
<div class="lg" style="left:309.1px;top:117.1px">Both constraints</div>
</body></html>
